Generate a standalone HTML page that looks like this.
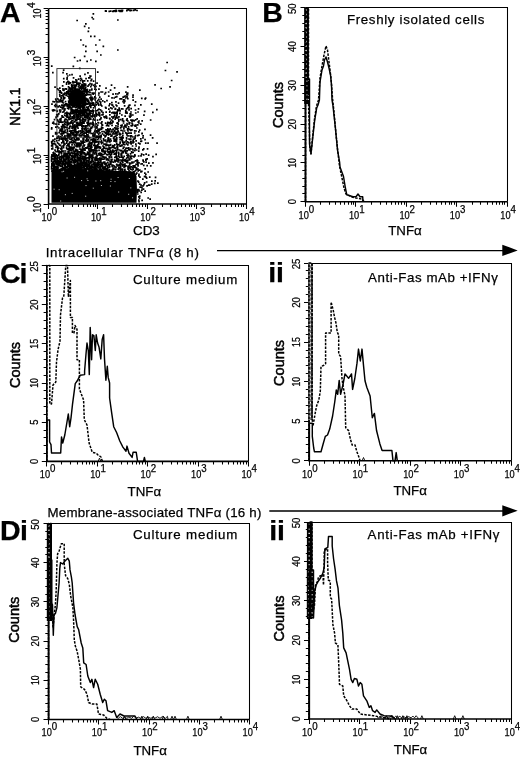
<!DOCTYPE html>
<html><head><meta charset="utf-8"><style>
html,body{margin:0;padding:0;background:#fff;}
body{width:520px;height:757px;overflow:hidden;position:relative;}
svg{position:absolute;left:0;top:0;filter:grayscale(1);}
text{font-family:"Liberation Sans", sans-serif;fill:#000;stroke:#000;stroke-width:0.25px;}
.h{stroke-width:0.25px;}
.t{stroke-width:0.5px;}
</style></head><body>
<svg width="520" height="757" viewBox="0 0 520 757" shape-rendering="auto">
<path d="M48.6 8.5H246.5V204" fill="none" stroke="#000" stroke-width="1.05"/>
<path d="M48.6 8.7V204H246.1" fill="none" stroke="#000" stroke-width="1.6"/>
<path d="M63.5 204v3M72.5 204v3M78.5 204v3M83.5 204v3M87.5 204v3M90.5 204v3M93.5 204v3M95.5 204v3M112.5 204v3M121.5 204v3M127.5 204v3M132.5 204v3M136.5 204v3M139.5 204v3M142.5 204v3M145.5 204v3M162.5 204v3M170.5 204v3M177.5 204v3M181.5 204v3M185.5 204v3M189.5 204v3M191.5 204v3M194.5 204v3M211.5 204v3M220.5 204v3M226.5 204v3M231.5 204v3M235.5 204v3M238.5 204v3M241.5 204v3M243.5 204v3M48.5 204v5M97.5 204v5M147.5 204v5M196.5 204v5M246.5 204v5" stroke="#000" stroke-width="1.05"/>
<text x="41.6" y="220.9" font-size="11.2" textLength="10.3" lengthAdjust="spacingAndGlyphs">10</text>
<text x="51.8" y="214.9" font-size="10.3" textLength="5.4" lengthAdjust="spacingAndGlyphs">0</text>
<text x="90.97" y="220.9" font-size="11.2" textLength="10.3" lengthAdjust="spacingAndGlyphs">10</text>
<text x="101.17" y="214.9" font-size="10.3" textLength="5.4" lengthAdjust="spacingAndGlyphs">1</text>
<text x="140.35" y="220.9" font-size="11.2" textLength="10.3" lengthAdjust="spacingAndGlyphs">10</text>
<text x="150.55" y="214.9" font-size="10.3" textLength="5.4" lengthAdjust="spacingAndGlyphs">2</text>
<text x="189.72" y="220.9" font-size="11.2" textLength="10.3" lengthAdjust="spacingAndGlyphs">10</text>
<text x="199.92" y="214.9" font-size="10.3" textLength="5.4" lengthAdjust="spacingAndGlyphs">3</text>
<text x="239.1" y="220.9" font-size="11.2" textLength="10.3" lengthAdjust="spacingAndGlyphs">10</text>
<text x="249.3" y="214.9" font-size="10.3" textLength="5.4" lengthAdjust="spacingAndGlyphs">4</text>
<text transform="translate(40.7,212.7) rotate(-90)" font-size="10.8" textLength="10" lengthAdjust="spacingAndGlyphs">10</text>
<text transform="translate(35.3,202.1) rotate(-90)" font-size="10.2" textLength="5.8" lengthAdjust="spacingAndGlyphs">0</text>
<text transform="translate(40.7,163.88) rotate(-90)" font-size="10.8" textLength="10" lengthAdjust="spacingAndGlyphs">10</text>
<text transform="translate(35.3,153.28) rotate(-90)" font-size="10.2" textLength="5.8" lengthAdjust="spacingAndGlyphs">1</text>
<text transform="translate(40.7,115.05) rotate(-90)" font-size="10.8" textLength="10" lengthAdjust="spacingAndGlyphs">10</text>
<text transform="translate(35.3,104.45) rotate(-90)" font-size="10.2" textLength="5.8" lengthAdjust="spacingAndGlyphs">2</text>
<text transform="translate(40.7,66.22) rotate(-90)" font-size="10.8" textLength="10" lengthAdjust="spacingAndGlyphs">10</text>
<text transform="translate(35.3,55.62) rotate(-90)" font-size="10.2" textLength="5.8" lengthAdjust="spacingAndGlyphs">3</text>
<text transform="translate(40.7,18.6) rotate(-90)" font-size="10.8" textLength="10" lengthAdjust="spacingAndGlyphs">10</text>
<text transform="translate(35.3,8) rotate(-90)" font-size="10.2" textLength="5.8" lengthAdjust="spacingAndGlyphs">4</text>
<path d="M48.6 189.5h-3M48.6 180.5h-3M48.6 174.5h-3M48.6 169.5h-3M48.6 166.5h-3M48.6 162.5h-3M48.6 159.5h-3M48.6 157.5h-3M48.6 140.5h-3M48.6 131.5h-3M48.6 125.5h-3M48.6 121.5h-3M48.6 117.5h-3M48.6 113.5h-3M48.6 111.5h-3M48.6 108.5h-3M48.6 91.5h-3M48.6 83.5h-3M48.6 76.5h-3M48.6 72.5h-3M48.6 68.5h-3M48.6 65.5h-3M48.6 62.5h-3M48.6 59.5h-3M48.6 42.5h-3M48.6 34.5h-3M48.6 28.5h-3M48.6 23.5h-3M48.6 19.5h-3M48.6 16.5h-3M48.6 13.5h-3M48.6 10.5h-3M48.6 204.5h-5M48.6 155.5h-5M48.6 106.5h-5M48.6 57.5h-5M48.6 8.5h-5" stroke="#000" stroke-width="1.05"/>
<path d="M305.5 7.5H507.5V201.7" fill="none" stroke="#000" stroke-width="1.05"/>
<path d="M305.5 7.8V201.7H507.3" fill="none" stroke="#000" stroke-width="1.6"/>
<path d="M320.5 201.7v3M329.5 201.7v3M335.5 201.7v3M340.5 201.7v3M344.5 201.7v3M348.5 201.7v3M351.5 201.7v3M353.5 201.7v3M371.5 201.7v3M380.5 201.7v3M386.5 201.7v3M391.5 201.7v3M395.5 201.7v3M398.5 201.7v3M401.5 201.7v3M404.5 201.7v3M421.5 201.7v3M430.5 201.7v3M436.5 201.7v3M441.5 201.7v3M445.5 201.7v3M449.5 201.7v3M451.5 201.7v3M454.5 201.7v3M472.5 201.7v3M480.5 201.7v3M487.5 201.7v3M492.5 201.7v3M496.5 201.7v3M499.5 201.7v3M502.5 201.7v3M504.5 201.7v3M305.5 201.7v5M355.5 201.7v5M406.5 201.7v5M456.5 201.7v5M507.5 201.7v5" stroke="#000" stroke-width="1.05"/>
<text x="298.5" y="218.6" font-size="11.2" textLength="10.3" lengthAdjust="spacingAndGlyphs">10</text>
<text x="308.7" y="212.6" font-size="10.3" textLength="5.4" lengthAdjust="spacingAndGlyphs">0</text>
<text x="348.95" y="218.6" font-size="11.2" textLength="10.3" lengthAdjust="spacingAndGlyphs">10</text>
<text x="359.15" y="212.6" font-size="10.3" textLength="5.4" lengthAdjust="spacingAndGlyphs">1</text>
<text x="399.4" y="218.6" font-size="11.2" textLength="10.3" lengthAdjust="spacingAndGlyphs">10</text>
<text x="409.6" y="212.6" font-size="10.3" textLength="5.4" lengthAdjust="spacingAndGlyphs">2</text>
<text x="449.85" y="218.6" font-size="11.2" textLength="10.3" lengthAdjust="spacingAndGlyphs">10</text>
<text x="460.05" y="212.6" font-size="10.3" textLength="5.4" lengthAdjust="spacingAndGlyphs">3</text>
<text x="500.3" y="218.6" font-size="11.2" textLength="10.3" lengthAdjust="spacingAndGlyphs">10</text>
<text x="510.5" y="212.6" font-size="10.3" textLength="5.4" lengthAdjust="spacingAndGlyphs">4</text>
<text transform="translate(296.2,201.7) rotate(-90)" font-size="10.5" textLength="5.2" lengthAdjust="spacingAndGlyphs" text-anchor="middle">0</text>
<text transform="translate(296.2,162.92) rotate(-90)" font-size="10.5" textLength="9.6" lengthAdjust="spacingAndGlyphs" text-anchor="middle">10</text>
<text transform="translate(296.2,124.14) rotate(-90)" font-size="10.5" textLength="10.6" lengthAdjust="spacingAndGlyphs" text-anchor="middle">20</text>
<text transform="translate(296.2,85.36) rotate(-90)" font-size="10.5" textLength="10.6" lengthAdjust="spacingAndGlyphs" text-anchor="middle">30</text>
<text transform="translate(296.2,46.58) rotate(-90)" font-size="10.5" textLength="10.6" lengthAdjust="spacingAndGlyphs" text-anchor="middle">40</text>
<text transform="translate(296.2,8.8) rotate(-90)" font-size="10.5" textLength="10.6" lengthAdjust="spacingAndGlyphs" text-anchor="middle">50</text>
<path d="M305.5 201.5h-5M305.5 193.5h-3.2M305.5 186.5h-3.2M305.5 178.5h-3.2M305.5 170.5h-3.2M305.5 162.5h-5M305.5 155.5h-3.2M305.5 147.5h-3.2M305.5 139.5h-3.2M305.5 131.5h-3.2M305.5 124.5h-5M305.5 116.5h-3.2M305.5 108.5h-3.2M305.5 100.5h-3.2M305.5 93.5h-3.2M305.5 85.5h-5M305.5 77.5h-3.2M305.5 69.5h-3.2M305.5 62.5h-3.2M305.5 54.5h-3.2M305.5 46.5h-5M305.5 38.5h-3.2M305.5 31.5h-3.2M305.5 23.5h-3.2M305.5 15.5h-3.2M305.5 7.5h-5" stroke="#000" stroke-width="1.05"/>
<path d="M46.8 265.5H248.5V461.4" fill="none" stroke="#000" stroke-width="1.05"/>
<path d="M46.8 265.5V461.4H248.4" fill="none" stroke="#000" stroke-width="1.6"/>
<path d="M61.5 461.4v3M70.5 461.4v3M77.5 461.4v3M82.5 461.4v3M86.5 461.4v3M89.5 461.4v3M92.5 461.4v3M94.5 461.4v3M112.5 461.4v3M121.5 461.4v3M127.5 461.4v3M132.5 461.4v3M136.5 461.4v3M139.5 461.4v3M142.5 461.4v3M145.5 461.4v3M162.5 461.4v3M171.5 461.4v3M177.5 461.4v3M182.5 461.4v3M186.5 461.4v3M190.5 461.4v3M193.5 461.4v3M195.5 461.4v3M213.5 461.4v3M222.5 461.4v3M228.5 461.4v3M233.5 461.4v3M237.5 461.4v3M240.5 461.4v3M243.5 461.4v3M246.5 461.4v3M46.5 461.4v5M97.5 461.4v5M147.5 461.4v5M198.5 461.4v5M248.5 461.4v5" stroke="#000" stroke-width="1.05"/>
<text x="39.8" y="478.3" font-size="11.2" textLength="10.3" lengthAdjust="spacingAndGlyphs">10</text>
<text x="50" y="472.3" font-size="10.3" textLength="5.4" lengthAdjust="spacingAndGlyphs">0</text>
<text x="90.2" y="478.3" font-size="11.2" textLength="10.3" lengthAdjust="spacingAndGlyphs">10</text>
<text x="100.4" y="472.3" font-size="10.3" textLength="5.4" lengthAdjust="spacingAndGlyphs">1</text>
<text x="140.6" y="478.3" font-size="11.2" textLength="10.3" lengthAdjust="spacingAndGlyphs">10</text>
<text x="150.8" y="472.3" font-size="10.3" textLength="5.4" lengthAdjust="spacingAndGlyphs">2</text>
<text x="191" y="478.3" font-size="11.2" textLength="10.3" lengthAdjust="spacingAndGlyphs">10</text>
<text x="201.2" y="472.3" font-size="10.3" textLength="5.4" lengthAdjust="spacingAndGlyphs">3</text>
<text x="241.4" y="478.3" font-size="11.2" textLength="10.3" lengthAdjust="spacingAndGlyphs">10</text>
<text x="251.6" y="472.3" font-size="10.3" textLength="5.4" lengthAdjust="spacingAndGlyphs">4</text>
<text transform="translate(37.5,461.4) rotate(-90)" font-size="10.5" textLength="5.2" lengthAdjust="spacingAndGlyphs" text-anchor="middle">0</text>
<text transform="translate(37.5,422.22) rotate(-90)" font-size="10.5" textLength="5.2" lengthAdjust="spacingAndGlyphs" text-anchor="middle">5</text>
<text transform="translate(37.5,383.04) rotate(-90)" font-size="10.5" textLength="9.6" lengthAdjust="spacingAndGlyphs" text-anchor="middle">10</text>
<text transform="translate(37.5,343.86) rotate(-90)" font-size="10.5" textLength="9.6" lengthAdjust="spacingAndGlyphs" text-anchor="middle">15</text>
<text transform="translate(37.5,304.68) rotate(-90)" font-size="10.5" textLength="10.6" lengthAdjust="spacingAndGlyphs" text-anchor="middle">20</text>
<text transform="translate(37.5,266.5) rotate(-90)" font-size="10.5" textLength="10.6" lengthAdjust="spacingAndGlyphs" text-anchor="middle">25</text>
<path d="M46.8 461.5h-5M46.8 453.5h-3.2M46.8 445.5h-3.2M46.8 437.5h-3.2M46.8 430.5h-3.2M46.8 422.5h-5M46.8 414.5h-3.2M46.8 406.5h-3.2M46.8 398.5h-3.2M46.8 390.5h-3.2M46.8 383.5h-5M46.8 375.5h-3.2M46.8 367.5h-3.2M46.8 359.5h-3.2M46.8 351.5h-3.2M46.8 343.5h-5M46.8 336.5h-3.2M46.8 328.5h-3.2M46.8 320.5h-3.2M46.8 312.5h-3.2M46.8 304.5h-5M46.8 296.5h-3.2M46.8 289.5h-3.2M46.8 281.5h-3.2M46.8 273.5h-3.2M46.8 265.5h-5" stroke="#000" stroke-width="1.05"/>
<path d="M309 263.5H511.5V460.8" fill="none" stroke="#000" stroke-width="1.05"/>
<path d="M309 263V460.8H511.4" fill="none" stroke="#000" stroke-width="1.6"/>
<path d="M324.5 460.8v3M333.5 460.8v3M339.5 460.8v3M344.5 460.8v3M348.5 460.8v3M351.5 460.8v3M354.5 460.8v3M357.5 460.8v3M374.5 460.8v3M383.5 460.8v3M390.5 460.8v3M394.5 460.8v3M398.5 460.8v3M402.5 460.8v3M405.5 460.8v3M407.5 460.8v3M425.5 460.8v3M434.5 460.8v3M440.5 460.8v3M445.5 460.8v3M449.5 460.8v3M452.5 460.8v3M455.5 460.8v3M458.5 460.8v3M476.5 460.8v3M484.5 460.8v3M491.5 460.8v3M496.5 460.8v3M500.5 460.8v3M503.5 460.8v3M506.5 460.8v3M509.5 460.8v3M309.5 460.8v5M359.5 460.8v5M410.5 460.8v5M460.5 460.8v5M511.5 460.8v5" stroke="#000" stroke-width="1.05"/>
<text x="302" y="477.7" font-size="11.2" textLength="10.3" lengthAdjust="spacingAndGlyphs">10</text>
<text x="312.2" y="471.7" font-size="10.3" textLength="5.4" lengthAdjust="spacingAndGlyphs">0</text>
<text x="352.6" y="477.7" font-size="11.2" textLength="10.3" lengthAdjust="spacingAndGlyphs">10</text>
<text x="362.8" y="471.7" font-size="10.3" textLength="5.4" lengthAdjust="spacingAndGlyphs">1</text>
<text x="403.2" y="477.7" font-size="11.2" textLength="10.3" lengthAdjust="spacingAndGlyphs">10</text>
<text x="413.4" y="471.7" font-size="10.3" textLength="5.4" lengthAdjust="spacingAndGlyphs">2</text>
<text x="453.8" y="477.7" font-size="11.2" textLength="10.3" lengthAdjust="spacingAndGlyphs">10</text>
<text x="464" y="471.7" font-size="10.3" textLength="5.4" lengthAdjust="spacingAndGlyphs">3</text>
<text x="504.4" y="477.7" font-size="11.2" textLength="10.3" lengthAdjust="spacingAndGlyphs">10</text>
<text x="514.6" y="471.7" font-size="10.3" textLength="5.4" lengthAdjust="spacingAndGlyphs">4</text>
<text transform="translate(299.7,460.8) rotate(-90)" font-size="10.5" textLength="5.2" lengthAdjust="spacingAndGlyphs" text-anchor="middle">0</text>
<text transform="translate(299.7,421.24) rotate(-90)" font-size="10.5" textLength="5.2" lengthAdjust="spacingAndGlyphs" text-anchor="middle">5</text>
<text transform="translate(299.7,381.68) rotate(-90)" font-size="10.5" textLength="9.6" lengthAdjust="spacingAndGlyphs" text-anchor="middle">10</text>
<text transform="translate(299.7,342.12) rotate(-90)" font-size="10.5" textLength="9.6" lengthAdjust="spacingAndGlyphs" text-anchor="middle">15</text>
<text transform="translate(299.7,302.56) rotate(-90)" font-size="10.5" textLength="10.6" lengthAdjust="spacingAndGlyphs" text-anchor="middle">20</text>
<text transform="translate(299.7,264) rotate(-90)" font-size="10.5" textLength="10.6" lengthAdjust="spacingAndGlyphs" text-anchor="middle">25</text>
<path d="M309 460.5h-5M309 452.5h-3.2M309 444.5h-3.2M309 437.5h-3.2M309 429.5h-3.2M309 421.5h-5M309 413.5h-3.2M309 405.5h-3.2M309 397.5h-3.2M309 389.5h-3.2M309 381.5h-5M309 373.5h-3.2M309 365.5h-3.2M309 357.5h-3.2M309 350.5h-3.2M309 342.5h-5M309 334.5h-3.2M309 326.5h-3.2M309 318.5h-3.2M309 310.5h-3.2M309 302.5h-5M309 294.5h-3.2M309 286.5h-3.2M309 278.5h-3.2M309 270.5h-3.2M309 263.5h-5" stroke="#000" stroke-width="1.05"/>
<path d="M48.5 523.5H249.5V719.5" fill="none" stroke="#000" stroke-width="1.05"/>
<path d="M48.5 523.5V719.5H249.6" fill="none" stroke="#000" stroke-width="1.6"/>
<path d="M63.5 719.5v3M72.5 719.5v3M78.5 719.5v3M83.5 719.5v3M87.5 719.5v3M90.5 719.5v3M93.5 719.5v3M96.5 719.5v3M113.5 719.5v3M122.5 719.5v3M129.5 719.5v3M133.5 719.5v3M137.5 719.5v3M141.5 719.5v3M144.5 719.5v3M146.5 719.5v3M164.5 719.5v3M173.5 719.5v3M179.5 719.5v3M184.5 719.5v3M188.5 719.5v3M191.5 719.5v3M194.5 719.5v3M197.5 719.5v3M214.5 719.5v3M223.5 719.5v3M229.5 719.5v3M234.5 719.5v3M238.5 719.5v3M241.5 719.5v3M244.5 719.5v3M247.5 719.5v3M48.5 719.5v5M98.5 719.5v5M149.5 719.5v5M199.5 719.5v5M249.5 719.5v5" stroke="#000" stroke-width="1.05"/>
<text x="41.5" y="736.4" font-size="11.2" textLength="10.3" lengthAdjust="spacingAndGlyphs">10</text>
<text x="51.7" y="730.4" font-size="10.3" textLength="5.4" lengthAdjust="spacingAndGlyphs">0</text>
<text x="91.78" y="736.4" font-size="11.2" textLength="10.3" lengthAdjust="spacingAndGlyphs">10</text>
<text x="101.98" y="730.4" font-size="10.3" textLength="5.4" lengthAdjust="spacingAndGlyphs">1</text>
<text x="142.05" y="736.4" font-size="11.2" textLength="10.3" lengthAdjust="spacingAndGlyphs">10</text>
<text x="152.25" y="730.4" font-size="10.3" textLength="5.4" lengthAdjust="spacingAndGlyphs">2</text>
<text x="192.32" y="736.4" font-size="11.2" textLength="10.3" lengthAdjust="spacingAndGlyphs">10</text>
<text x="202.52" y="730.4" font-size="10.3" textLength="5.4" lengthAdjust="spacingAndGlyphs">3</text>
<text x="242.6" y="736.4" font-size="11.2" textLength="10.3" lengthAdjust="spacingAndGlyphs">10</text>
<text x="252.8" y="730.4" font-size="10.3" textLength="5.4" lengthAdjust="spacingAndGlyphs">4</text>
<text transform="translate(39.2,719.5) rotate(-90)" font-size="10.5" textLength="5.2" lengthAdjust="spacingAndGlyphs" text-anchor="middle">0</text>
<text transform="translate(39.2,680.3) rotate(-90)" font-size="10.5" textLength="9.6" lengthAdjust="spacingAndGlyphs" text-anchor="middle">10</text>
<text transform="translate(39.2,641.1) rotate(-90)" font-size="10.5" textLength="10.6" lengthAdjust="spacingAndGlyphs" text-anchor="middle">20</text>
<text transform="translate(39.2,601.9) rotate(-90)" font-size="10.5" textLength="10.6" lengthAdjust="spacingAndGlyphs" text-anchor="middle">30</text>
<text transform="translate(39.2,562.7) rotate(-90)" font-size="10.5" textLength="10.6" lengthAdjust="spacingAndGlyphs" text-anchor="middle">40</text>
<text transform="translate(39.2,524.5) rotate(-90)" font-size="10.5" textLength="10.6" lengthAdjust="spacingAndGlyphs" text-anchor="middle">50</text>
<path d="M48.5 719.5h-5M48.5 711.5h-3.2M48.5 703.5h-3.2M48.5 695.5h-3.2M48.5 688.5h-3.2M48.5 680.5h-5M48.5 672.5h-3.2M48.5 664.5h-3.2M48.5 656.5h-3.2M48.5 648.5h-3.2M48.5 641.5h-5M48.5 633.5h-3.2M48.5 625.5h-3.2M48.5 617.5h-3.2M48.5 609.5h-3.2M48.5 601.5h-5M48.5 594.5h-3.2M48.5 586.5h-3.2M48.5 578.5h-3.2M48.5 570.5h-3.2M48.5 562.5h-5M48.5 554.5h-3.2M48.5 547.5h-3.2M48.5 539.5h-3.2M48.5 531.5h-3.2M48.5 523.5h-5" stroke="#000" stroke-width="1.05"/>
<path d="M309 522.5H511.5V719" fill="none" stroke="#000" stroke-width="1.05"/>
<path d="M309 522V719H511.5" fill="none" stroke="#000" stroke-width="1.6"/>
<path d="M324.5 719v3M333.5 719v3M339.5 719v3M344.5 719v3M348.5 719v3M351.5 719v3M354.5 719v3M357.5 719v3M374.5 719v3M383.5 719v3M390.5 719v3M395.5 719v3M399.5 719v3M402.5 719v3M405.5 719v3M407.5 719v3M425.5 719v3M434.5 719v3M440.5 719v3M445.5 719v3M449.5 719v3M453.5 719v3M455.5 719v3M458.5 719v3M476.5 719v3M485.5 719v3M491.5 719v3M496.5 719v3M500.5 719v3M503.5 719v3M506.5 719v3M509.5 719v3M309.5 719v5M359.5 719v5M410.5 719v5M460.5 719v5M511.5 719v5" stroke="#000" stroke-width="1.05"/>
<text x="302" y="735.9" font-size="11.2" textLength="10.3" lengthAdjust="spacingAndGlyphs">10</text>
<text x="312.2" y="729.9" font-size="10.3" textLength="5.4" lengthAdjust="spacingAndGlyphs">0</text>
<text x="352.62" y="735.9" font-size="11.2" textLength="10.3" lengthAdjust="spacingAndGlyphs">10</text>
<text x="362.82" y="729.9" font-size="10.3" textLength="5.4" lengthAdjust="spacingAndGlyphs">1</text>
<text x="403.25" y="735.9" font-size="11.2" textLength="10.3" lengthAdjust="spacingAndGlyphs">10</text>
<text x="413.45" y="729.9" font-size="10.3" textLength="5.4" lengthAdjust="spacingAndGlyphs">2</text>
<text x="453.88" y="735.9" font-size="11.2" textLength="10.3" lengthAdjust="spacingAndGlyphs">10</text>
<text x="464.07" y="729.9" font-size="10.3" textLength="5.4" lengthAdjust="spacingAndGlyphs">3</text>
<text x="504.5" y="735.9" font-size="11.2" textLength="10.3" lengthAdjust="spacingAndGlyphs">10</text>
<text x="514.7" y="729.9" font-size="10.3" textLength="5.4" lengthAdjust="spacingAndGlyphs">4</text>
<text transform="translate(299.7,719) rotate(-90)" font-size="10.5" textLength="5.2" lengthAdjust="spacingAndGlyphs" text-anchor="middle">0</text>
<text transform="translate(299.7,679.6) rotate(-90)" font-size="10.5" textLength="9.6" lengthAdjust="spacingAndGlyphs" text-anchor="middle">10</text>
<text transform="translate(299.7,640.2) rotate(-90)" font-size="10.5" textLength="10.6" lengthAdjust="spacingAndGlyphs" text-anchor="middle">20</text>
<text transform="translate(299.7,600.8) rotate(-90)" font-size="10.5" textLength="10.6" lengthAdjust="spacingAndGlyphs" text-anchor="middle">30</text>
<text transform="translate(299.7,561.4) rotate(-90)" font-size="10.5" textLength="10.6" lengthAdjust="spacingAndGlyphs" text-anchor="middle">40</text>
<text transform="translate(299.7,523) rotate(-90)" font-size="10.5" textLength="10.6" lengthAdjust="spacingAndGlyphs" text-anchor="middle">50</text>
<path d="M309 719.5h-5M309 711.5h-3.2M309 703.5h-3.2M309 695.5h-3.2M309 687.5h-3.2M309 679.5h-5M309 671.5h-3.2M309 663.5h-3.2M309 655.5h-3.2M309 648.5h-3.2M309 640.5h-5M309 632.5h-3.2M309 624.5h-3.2M309 616.5h-3.2M309 608.5h-3.2M309 600.5h-5M309 592.5h-3.2M309 585.5h-3.2M309 577.5h-3.2M309 569.5h-3.2M309 561.5h-5M309 553.5h-3.2M309 545.5h-3.2M309 537.5h-3.2M309 529.5h-3.2M309 522.5h-5" stroke="#000" stroke-width="1.05"/>
<text x="0.1" y="22" font-size="28.5" font-weight="bold">A</text>
<text x="262.3" y="21.9" font-size="28.5" font-weight="bold">B</text>
<text x="0.1" y="282.8" font-size="28.5" font-weight="bold" textLength="27.2" lengthAdjust="spacing">Ci</text>
<text x="268.2" y="282.1" font-size="28.5" font-weight="bold">ii</text>
<text x="-0.1" y="540.3" font-size="28.5" font-weight="bold" textLength="27.9" lengthAdjust="spacing">Di</text>
<text x="269.2" y="540" font-size="28.5" font-weight="bold">ii</text>
<text x="346.9" y="23.5" font-size="13.3" textLength="137.5" lengthAdjust="spacing" class="h">Freshly isolated cells</text>
<text x="132.95" y="284" font-size="13.3" textLength="104.45" lengthAdjust="spacing" class="h">Culture medium</text>
<text x="367.95" y="281.5" font-size="13.3" textLength="129.95" lengthAdjust="spacing" class="h">Anti-Fas mAb +IFN&#947;</text>
<text x="132.95" y="538.75" font-size="13.3" textLength="104.45" lengthAdjust="spacing" class="h">Culture medium</text>
<text x="367.6" y="538.5" font-size="13.3" textLength="131.8" lengthAdjust="spacing" class="h">Anti-Fas mAb +IFN&#947;</text>
<text x="45.7" y="257" font-size="13.3" textLength="153.2" lengthAdjust="spacing" class="h">Intracellular TNF&#945; (8 h)</text>
<text x="47.5" y="517.2" font-size="13.3" textLength="213.9" lengthAdjust="spacing" class="h">Membrane-associated TNF&#945; (16 h)</text>
<text transform="translate(282.6,128) rotate(-90)" font-size="15" textLength="46" lengthAdjust="spacingAndGlyphs" class="t">Counts</text>
<text transform="translate(19.6,388) rotate(-90)" font-size="15" textLength="46" lengthAdjust="spacingAndGlyphs" class="t">Counts</text>
<text transform="translate(283.6,385.9) rotate(-90)" font-size="15" textLength="46" lengthAdjust="spacingAndGlyphs" class="t">Counts</text>
<text transform="translate(19,642.7) rotate(-90)" font-size="15" textLength="46" lengthAdjust="spacingAndGlyphs" class="t">Counts</text>
<text transform="translate(284,641.6) rotate(-90)" font-size="15" textLength="46" lengthAdjust="spacingAndGlyphs" class="t">Counts</text>
<text transform="translate(20,126) rotate(-90)" font-size="15" textLength="38.5" lengthAdjust="spacingAndGlyphs" class="t">NK1.1</text>
<text x="133" y="235" font-size="13.3" textLength="26.8" lengthAdjust="spacingAndGlyphs" class="h">CD3</text>
<text x="388.2" y="235" font-size="13.5" textLength="33.5" lengthAdjust="spacingAndGlyphs" class="h">TNF&#945;</text>
<text x="127.6" y="496.3" font-size="13.5" textLength="33.5" lengthAdjust="spacingAndGlyphs" class="h">TNF&#945;</text>
<text x="393.4" y="494.9" font-size="13.5" textLength="33.5" lengthAdjust="spacingAndGlyphs" class="h">TNF&#945;</text>
<text x="133.4" y="754.6" font-size="13.5" textLength="33.5" lengthAdjust="spacingAndGlyphs" class="h">TNF&#945;</text>
<text x="393.8" y="754" font-size="13.5" textLength="33.5" lengthAdjust="spacingAndGlyphs" class="h">TNF&#945;</text>
<path d="M217 250.6H504M269.3 511H504" stroke="#000" stroke-width="1.3"/>
<path d="M502.3 244.8L517.7 250.4L502.3 256Z M502.3 505.2L517.7 510.8L502.3 516.4Z" fill="#000"/>
<rect x="304.2" y="7.8" width="4.7" height="71.2" fill="#000"/>
<path d="M306.08 9.3V78" stroke="#fff" stroke-width="1.3" stroke-dasharray="1.4 3.1"/>
<rect x="304.2" y="79" width="5.8" height="25" fill="#000"/>
<path d="M305.9 80.5V103" stroke="#fff" stroke-width="1.3" stroke-dasharray="1.4 3.1"/>
<path d="M308.3 80.5V103" stroke="#fff" stroke-width="1.3" stroke-dasharray="1.4 3.1"/>
<rect x="308.4" y="263" width="4.3" height="157" fill="#777"/>
<path d="M312.1 263V420" stroke="#000" stroke-width="1.3" stroke-dasharray="2.6 1.6"/>
<path d="M310.3 264V420" stroke="#fff" stroke-width="1.2" stroke-dasharray="1.4 3.2"/>
<rect x="46.8" y="523.5" width="5.2" height="97.5" fill="#000"/>
<path d="M48.88 525V620" stroke="#fff" stroke-width="1.3" stroke-dasharray="1.4 3.1"/>
<rect x="306.9" y="522" width="5.7" height="97" fill="#000"/>
<path d="M309.18 523.5V618" stroke="#fff" stroke-width="1.3" stroke-dasharray="1.4 3.1"/>
<rect x="306.9" y="570" width="7.1" height="48" fill="#000"/>
<path d="M308.6 571.5V617" stroke="#fff" stroke-width="1.3" stroke-dasharray="1.4 3.1"/>
<path d="M312.3 571.5V617" stroke="#fff" stroke-width="1.3" stroke-dasharray="1.4 3.1"/>
<path d="M305.5 201.7 L305.5 79 L309.5 79 L309.5 144 L311 153.5 L312.5 140 L314.6 121 L316.7 108 L318 105 L319.4 100 L320 82 L322 70 L323.5 66 L324.5 60 L326 57 L327.5 62 L329 68 L330.5 75 L331.5 85 L332 100 L333 106 L335.4 128 L337.5 150 L339.6 162 L340 167 L343.5 176.5 L345.4 188 L346.8 194.8 L353 196.7 L356 196.7 L358 194 L360 196.7 L362.7 196.7 L363 201.7" fill="none" stroke="#000" stroke-width="1.45" stroke-linejoin="round"/>
<path d="M305.5 201.7 L305.5 8 L308.5 8 L308.5 104 L310 150 L311 154 L312.5 138 L314.5 119 L316.5 106 L318.5 100 L320 78 L322 66 L324 55 L326 46 L327.5 50 L329 62 L331 78 L332.5 98 L334 112 L336 134 L338 153 L339.5 166 L342 178 L344 188 L346 194 L352 197 L356 198 L362 199 L364 201.7" fill="none" stroke="#000" stroke-width="1.5" stroke-dasharray="2.5 1.3" stroke-linejoin="round"/>
<path d="M46.8 461.4 L46.8 265.5 L49.8 265.5 L49.8 404 L51.5 404 L53 385 L55.8 382 L56.5 362 L58 350 L60 341 L60.5 315 L62.5 298 L63.8 296 L65.8 265.5 L67.5 265.5 L68.4 297 L70.4 280.5 L70.4 317.5 L72.4 317.5 L72.4 333 L74 333 L75 325.4 L77 329.4 L77 359.8 L79.4 359.8 L79.4 389 L83.6 400 L84.3 419.7 L87 425 L89.1 443 L92.2 452.2 L96.3 453.3 L98 455 L101 457 L102.4 461.4" fill="none" stroke="#000" stroke-width="1.5" stroke-dasharray="2.5 1.3" stroke-linejoin="round"/>
<path d="M46.8 461.4 L47 420 L49.6 420 L49.6 442 L51 444.7 L51.5 453 L60.7 453 L61.5 437 L62.75 443 L64.8 435 L66.9 422.5 L68.3 414 L69.7 426.7 L71 418 L72.5 404.4 L75.25 383.6 L77.3 380.8 L80.1 375.3 L84.6 374.6 L84.6 371 L86 354 L87 343 L88.3 350.5 L89.3 374.6 L90.2 327.4 L91.6 359.8 L92.5 334.8 L93.9 335.7 L95.3 350.5 L96.2 334.8 L97.6 343 L99 346.9 L100.8 358.9 L102.2 339.4 L103.6 334.8 L104.5 358.9 L105.9 380.2 L107.3 366.3 L108.2 377.4 L109.6 383 L109.6 398 L111.6 412.3 L113.7 426.7 L116.7 432.8 L119.8 441 L122.9 447.1 L126 451.2 L127 446.1 L129 453.3 L132.1 457.4 L133.1 452.2 L136.2 452.2 L137.6 461.4 L143.5 461.4 L144.4 457.4 L145.3 461.4" fill="none" stroke="#000" stroke-width="1.45" stroke-linejoin="round"/>
<path d="M309 460.8 L309 263 L312 263 L312 417.5 L313 426.2 L315.2 413.1 L316.6 405.9 L318.8 400 L320.3 391.3 L321 366.6 L323.9 365.2 L325.6 363.7 L325.6 332.9 L331.1 332.9 L331.1 302 L333.2 310.2 L334.5 317 L335.9 322.6 L337.3 332.2 L338.7 335 L338.7 354 L340.6 356.5 L342.1 379.7 L343.5 388.4 L345 395.7 L345.7 427.7 L348.6 430.6 L350.5 439.6 L352.2 445.1 L355.1 445.1 L356.6 450.9 L358.8 456.7 L360 460.8" fill="none" stroke="#000" stroke-width="1.5" stroke-dasharray="2.5 1.3" stroke-linejoin="round"/>
<path d="M309.4 460.8 L309.4 423.3 L312.3 423.3 L312.3 436.4 L313.7 448 L314.4 451.7 L321 451.7 L323.2 443.7 L325.3 436.4 L327.5 435 L329.7 429.1 L332.6 416 L334.8 401.5 L336.3 389.9 L337.7 394.2 L339.2 380.4 L340.6 394.2 L342.8 385.5 L345 373.9 L348.6 378.3 L351.5 373.9 L352.6 389.4 L354.8 378.5 L357 363.2 L358.5 349.1 L360.3 361 L362 349.1 L363.5 365.4 L365 380.7 L366.8 387.2 L370.1 396 L372.3 417.8 L374.4 413.4 L376.6 430.8 L379.9 443.9 L382.1 450.5 L391.9 450.5 L393 460.8 L395 460.8 L396.2 452.6 L397.3 460.8" fill="none" stroke="#000" stroke-width="1.45" stroke-linejoin="round"/>
<path d="M48.5 719.5 L48.5 523.5 L51.2 523.5 L51.2 600 L53.1 628 L54 616.4 L55.4 604.8 L56.2 590.2 L56.9 564 L57.6 553.9 L59.1 551 L61.3 543.7 L64.2 543.7 L64.2 564 L65.6 575.7 L67.8 578.6 L69.3 584.4 L70.7 596 L72.9 607.7 L73.6 620.8 L74.3 640 L75.4 646.3 L77.1 651.2 L78.7 659.5 L80.4 669.4 L80.7 686.8 L84.5 689.3 L87 694.2 L88.6 702.5 L91.9 704.1 L96.9 704.1 L98.5 714 L103.5 714.9 L106.8 718.2 L110 719.5" fill="none" stroke="#000" stroke-width="1.5" stroke-dasharray="2.5 1.3" stroke-linejoin="round"/>
<path d="M48.7 719.5 L48.7 560 L51.8 560 L51.8 603.3 L52.5 604.8 L53.3 635.3 L54 615 L55.4 613.5 L56.9 607.7 L59.1 583 L59.8 568.4 L60.5 562.6 L62.7 564 L65 561 L67.8 558.3 L69.3 561.2 L70 569.9 L71.4 577.2 L72.2 583 L72.9 593.1 L73.6 603.3 L75.1 615 L77.2 626.6 L78.7 629.8 L81.2 643 L82.8 647.9 L83.7 662.8 L86.1 664.5 L87.8 676 L90.3 682.6 L91.9 679.3 L93.6 687.6 L95.2 679.3 L97.7 684.3 L100.2 694.2 L102.7 702.5 L104.3 699.2 L106 700.8 L107.6 710.7 L111.8 712.4 L114.2 710.7 L116.7 717.4 L120 714 L124 716 L135 716 L137 719.5" fill="none" stroke="#000" stroke-width="1.45" stroke-linejoin="round"/>
<path d="M309 719 L309 522 L312 522 L312 600 L313 612 L314.5 605 L315.5 585 L317.5 581.3 L318.5 577 L320.2 576 L322.9 574.6 L323.5 585 L324.2 560 L324.2 550.3 L327.6 549 L327.6 562.5 L328.3 580 L330.3 581.3 L330.3 597.5 L331.6 598.9 L332.9 624.8 L334.6 633.1 L335.4 643 L337.9 644.6 L338.7 662.8 L339.5 684.3 L342.8 686 L343.7 695.9 L347 700.8 L349.5 705.8 L352 709.1 L356.9 709.1 L360.2 714 L366.8 714.9 L373.4 715.7 L380 717 L390 719" fill="none" stroke="#000" stroke-width="1.5" stroke-dasharray="2.5 1.3" stroke-linejoin="round"/>
<path d="M309.4 719 L309.4 570 L313.5 570 L313.5 618 L314.7 591 L316.2 585 L318.4 581 L320.5 578 L322.7 573.6 L324.2 567.8 L324.9 549 L327.8 547.4 L328.5 536.5 L332.2 536.5 L332.2 546 L333.6 559 L335.1 569.2 L336.5 580.9 L338 588.1 L339.4 605.6 L341.6 620.1 L342.8 633.1 L343.7 647.9 L346.1 652.9 L347.8 661.2 L349.5 669.4 L351.1 679.3 L352.8 682.6 L354.4 678.5 L356.9 679.3 L358.5 686 L360.2 682.6 L361.9 684.3 L363.5 695.9 L366.8 700.8 L369.3 707.4 L370.9 705.8 L372.6 710.7 L375.1 712.4 L376.7 709.9 L380 714 L384 715.7 L392 716 L395 719" fill="none" stroke="#000" stroke-width="1.45" stroke-linejoin="round"/>
<path d="M123.1 719.5L124.5 716.2L125.9 719.5M140.4 719.5L141.8 716.2L143.2 719.5M146.2 719.5L147.6 716.2L149 719.5M151.9 719.5L153.3 716.2L154.7 719.5M162 719.5L163.4 716.2L164.8 719.5M170.6 719.5L172 716.2L173.4 719.5M173.6 719.5L175 716.2L176.4 719.5M186.5 719.5L187.9 716.2L189.3 719.5M219.6 719.5L221 716.2L222.4 719.5" fill="none" stroke="#000" stroke-width="0.9"/>
<path d="M385 719L386.4 715.7L387.8 719M390.5 719L391.9 715.7L393.3 719M395.9 719L397.3 715.7L398.7 719M401.4 719L402.8 715.7L404.2 719M405.5 719L406.9 715.7L408.3 719M420.5 719L421.9 715.7L423.3 719M453.3 719L454.7 715.7L456.1 719M461.5 719L462.9 715.7L464.3 719" fill="none" stroke="#000" stroke-width="0.9"/>
<path d="M98.1 461.4L99.5 458.1L100.9 461.4" fill="none" stroke="#000" stroke-width="0.9"/>
<path d="M362.1 460.8L363.5 457.5L364.9 460.8" fill="none" stroke="#000" stroke-width="0.9"/>
<path d="M116 717.04 L118.26 718.3 L120.29 716.57 L122.65 718.3 L124.28 717.32 L126.92 718.3 L128.81 717.04 L131.66 718.3 L133.82 716.27 L135.99 718.3 L138.37 717.15 L140.75 718.3 L143.44 716.67 L145.96 718.3 L148.38 717.26 L150.92 718.3 L153.24 716.95 L154.82 718.3 L157.51 716.73 L160 718.3 L162.7 716.43 L165.45 718.3 L167.51 716.31 L168 719.5" fill="none" stroke="#000" stroke-width="0.9"/>
<path d="M376 716.04 L378.52 717.8 L381.11 715.63 L383.63 717.8 L386.38 716.8 L388.54 717.8 L391.32 716.01 L394.05 717.8 L395.74 716.24 L397.61 717.8 L399.86 716.11 L401.42 717.8 L403.25 716.48 L406 717.8 L408.55 716.64 L411.14 717.8 L412.86 716.05 L414.57 717.8 L416.11 715.72 L417.93 717.8 L418 719" fill="none" stroke="#000" stroke-width="0.9"/>
<path d="M51.5 202.8 L51.5 169.5 L70 169 L96 169.5 L112 171 L124 171 L134 171.5 L136.5 176 L137 190 L136.5 202.8Z" fill="#000"/>
<path d="M79.3 60.3h1.7M76.7 61h1.7M50.9 66.1h1.7M78.9 68.3h1.7M62.8 70.1h1.7M96.9 72.2h1.7M52 72.7h1.7M62.2 72.7h1.7M87.1 72.8h1.7M66 73.9h1.7M84.1 74.3h1.7M68.9 75h1.7M71.2 74.7h1.7M66.8 76h1.7M79.3 76.2h1.7M89.1 76h1.7M89.9 76.2h1.7M66.3 77.8h1.7M72.7 77.9h1.7M79.9 78.3h1.7M88 77.9h1.7M89 77.8h1.7M62.9 78.7h1.7M66.2 79.1h1.7M77.8 79.2h1.7M80.8 79.3h1.7M85.2 78.7h1.7M90.8 79.3h1.7M75 79.9h1.7M75.9 80.3h1.7M67.1 81.3h1.7M75.9 81.3h1.7M79.8 80.7h1.7M81.9 80.9h1.7M83.7 80.8h1.7M86.9 80.8h1.7M90.2 80.7h1.7M92.7 81.2h1.7M63 81.8h1.7M67 81.9h1.7M68.2 82.1h1.7M71.9 81.7h1.7M73.2 82.2h1.7M73.7 82.3h1.7M74.8 82.2h1.7M82 82.1h1.7M65.8 82.7h1.7M68.8 83.1h1.7M69.7 82.8h1.7M72.2 82.8h1.7M76 82.8h1.7M76.9 83.3h1.7M77.9 83.2h1.7M79.2 83.3h1.7M96.2 83.2h1.7M65.7 84.1h1.7M68 83.9h1.7M76 84.1h1.7M77.2 83.9h1.7M78.1 84.3h1.7M81.3 84.3h1.7M83.1 83.8h1.7M84.7 84.1h1.7M89.2 83.7h1.7M91 84.1h1.7M70.7 84.9h1.7M72 85.3h1.7M72.8 85h1.7M73.9 85h1.7M75.2 85.1h1.7M78.2 85.3h1.7M80.9 85.1h1.7M81.8 84.9h1.7M83.8 85.1h1.7M84.9 85.2h1.7M88.1 84.8h1.7M90.8 84.9h1.7M92.9 85.3h1.7M94.3 84.7h1.7M110.7 85.1h1.7M61.8 85.8h1.7M70.9 86.1h1.7M74 86.3h1.7M74.7 85.9h1.7M75.7 85.9h1.7M79.8 86.3h1.7M81.1 85.7h1.7M83.2 85.9h1.7M87.1 86.1h1.7M95.1 86.3h1.7M99 85.8h1.7M54.2 87.1h1.7M67.7 86.9h1.7M71.1 86.9h1.7M71.7 87.1h1.7M72.8 87.3h1.7M74.2 86.7h1.7M77.8 87h1.7M79.9 87.1h1.7M81.1 86.9h1.7M82 86.7h1.7M83 86.9h1.7M84.9 87.1h1.7M90 86.7h1.7M94 86.8h1.7M126.8 86.9h1.7M59 88.2h1.7M68.7 87.9h1.7M70.3 88.3h1.7M71.9 87.9h1.7M72.9 87.9h1.7M73.8 88h1.7M74.7 88.1h1.7M79.2 87.8h1.7M80.8 88.2h1.7M81.8 88.1h1.7M82.9 88.3h1.7M105.2 88.1h1.7M113.8 87.8h1.7M56.8 88.9h1.7M62.1 88.8h1.7M64.1 89h1.7M65.1 88.8h1.7M65.7 89.1h1.7M68.3 88.9h1.7M69.2 89h1.7M72 88.7h1.7M74.1 88.7h1.7M74.9 89h1.7M77.2 89.1h1.7M78.3 89.1h1.7M79.3 88.7h1.7M84.3 88.7h1.7M86.1 89.3h1.7M91 89.1h1.7M94 89.1h1.7M98.1 89.2h1.7M57.7 90h1.7M62.3 90.1h1.7M63.1 90.3h1.7M68 90.3h1.7M70 90.2h1.7M71.3 90h1.7M71.8 89.7h1.7M75.3 89.8h1.7M76.2 90.2h1.7M76.9 89.7h1.7M78 90.1h1.7M80.9 89.8h1.7M83.1 89.9h1.7M84.1 89.8h1.7M85 90.1h1.7M85.9 90h1.7M86.7 90.1h1.7M89 90.2h1.7M90.9 89.8h1.7M95.2 89.7h1.7M109.7 90.2h1.7M139 90.1h1.7M59.3 90.8h1.7M67.1 91.1h1.7M68.3 91.1h1.7M70 91.2h1.7M71.9 91.3h1.7M73.1 91.3h1.7M74.7 90.8h1.7M75.8 91.1h1.7M76.7 90.7h1.7M78 91h1.7M79.2 91.3h1.7M82 91.3h1.7M83.3 91.2h1.7M83.7 91h1.7M84.8 90.9h1.7M86.2 91.1h1.7M58.8 92.2h1.7M60.3 92.3h1.7M65.9 91.8h1.7M67.3 92.1h1.7M67.7 92.2h1.7M71.2 91.9h1.7M72 91.9h1.7M73.9 91.8h1.7M76 92.3h1.7M77 92.3h1.7M78.3 92.1h1.7M79.7 92.1h1.7M84.3 91.8h1.7M84.7 91.8h1.7M86.2 92h1.7M87.8 91.9h1.7M89.2 92.3h1.7M100.2 92h1.7M101.7 92h1.7M107.8 92h1.7M125.1 92.1h1.7M60.9 93.2h1.7M63.9 93h1.7M64.8 93.2h1.7M66.2 93.1h1.7M66.8 93.1h1.7M69.2 93h1.7M71 93.2h1.7M72.2 93.2h1.7M73.1 93.3h1.7M74.3 93.3h1.7M74.7 93.3h1.7M77.3 92.8h1.7M77.9 92.8h1.7M79.3 93h1.7M79.9 93.1h1.7M80.9 92.7h1.7M81.9 92.8h1.7M83.3 93.1h1.7M83.7 93.3h1.7M86 92.8h1.7M91.3 93h1.7M91.9 93.2h1.7M93.2 93.1h1.7M98.1 93.2h1.7M104.8 92.7h1.7M118.3 92.8h1.7M126.9 93.1h1.7M58.9 94.3h1.7M63 94.1h1.7M63.8 94.3h1.7M66.1 93.9h1.7M67.3 93.9h1.7M67.9 94.2h1.7M68.9 94h1.7M72.3 94.1h1.7M72.9 94.1h1.7M76 94.2h1.7M77 93.7h1.7M77.7 93.8h1.7M79 94h1.7M79.8 93.8h1.7M81.3 93.8h1.7M81.8 93.7h1.7M86.9 94.3h1.7M92.3 94.2h1.7M92.7 93.9h1.7M103.9 94h1.7M112.2 94.1h1.7M115 93.8h1.7M117 94h1.7M126 94.2h1.7M61.9 95h1.7M65.3 95.3h1.7M69.7 95h1.7M72.3 94.9h1.7M73.2 95h1.7M74.1 94.7h1.7M75.1 95h1.7M75.9 94.7h1.7M78.9 94.8h1.7M80 95h1.7M82.1 95.2h1.7M83.2 95.3h1.7M84.3 94.9h1.7M85 94.7h1.7M85.7 95.1h1.7M87.9 94.7h1.7M88.9 94.7h1.7M90.1 95h1.7M97.9 95h1.7M126.7 94.8h1.7M132.2 95.2h1.7M59.1 96.2h1.7M60.9 95.9h1.7M62.7 96.3h1.7M67.1 96.2h1.7M67.9 96.3h1.7M69.1 96h1.7M70.1 96.1h1.7M70.8 96.2h1.7M71.8 95.8h1.7M73.3 96.3h1.7M77.2 95.7h1.7M77.7 96.1h1.7M80.3 95.8h1.7M81.1 95.7h1.7M82.2 96h1.7M83 96.2h1.7M84.1 96.2h1.7M107.9 96.1h1.7M123.7 96.3h1.7M125 96h1.7M68.2 96.8h1.7M69 97h1.7M70.3 96.9h1.7M71.2 97h1.7M72.3 96.7h1.7M73.2 97h1.7M73.7 97.1h1.7M74.7 96.7h1.7M76 97.2h1.7M76.7 97.1h1.7M78.1 97.1h1.7M80 96.9h1.7M80.9 96.7h1.7M81.9 96.8h1.7M82.9 97.1h1.7M84.1 97.1h1.7M90 97h1.7M90.9 97h1.7M94 96.9h1.7M98.9 97.1h1.7M114.7 97.1h1.7M116 96.7h1.7M122.3 97.1h1.7M122.7 97h1.7M126.2 96.8h1.7M132.1 97.2h1.7M60.2 97.8h1.7M60.8 98.1h1.7M63 98.2h1.7M63.9 97.9h1.7M68.3 98.2h1.7M69.3 97.7h1.7M70.2 98.1h1.7M72.9 97.9h1.7M74.8 97.7h1.7M76.2 97.9h1.7M77.3 97.8h1.7M79.2 98.3h1.7M80.3 97.9h1.7M81.2 98.2h1.7M83.3 97.7h1.7M85.1 98.3h1.7M89.1 97.8h1.7M90.2 98h1.7M91.8 98.2h1.7M94.1 98h1.7M94.8 98.1h1.7M111.2 97.9h1.7M113.3 98h1.7M124.9 98h1.7M140.9 98.3h1.7M144.8 98.1h1.7M54.9 99.1h1.7M56.9 98.8h1.7M63.2 98.7h1.7M68.7 98.9h1.7M71.2 98.9h1.7M72 99.3h1.7M73.8 99.3h1.7M74.9 98.8h1.7M75.7 98.9h1.7M77.3 99.2h1.7M78.3 98.8h1.7M79.3 98.7h1.7M79.8 98.8h1.7M81.1 99.3h1.7M82.3 98.8h1.7M83.1 99.2h1.7M83.9 99h1.7M86.3 99.1h1.7M86.8 99.1h1.7M89.9 99.1h1.7M92.1 98.8h1.7M98 99.3h1.7M100.3 99.1h1.7M119.2 98.8h1.7M120.8 98.9h1.7M127 98.7h1.7M144.3 98.8h1.7M58 100h1.7M59.9 99.8h1.7M62.2 100h1.7M69.7 99.8h1.7M71 99.8h1.7M72.2 100.1h1.7M73 100.3h1.7M73.9 99.7h1.7M76 100.2h1.7M77.9 100.1h1.7M79 100.3h1.7M80.1 100.1h1.7M83.2 99.7h1.7M84.3 100.1h1.7M84.9 100h1.7M85.7 100h1.7M86.7 100.2h1.7M87.7 100.3h1.7M90.3 100.3h1.7M91.2 99.7h1.7M94.3 99.9h1.7M122.8 99.8h1.7M123.7 100h1.7M132.3 100.2h1.7M55.3 100.7h1.7M58.9 101.1h1.7M61.2 100.7h1.7M61.8 101.3h1.7M67.8 101h1.7M69.1 100.9h1.7M70 100.7h1.7M72.2 100.8h1.7M72.8 101.1h1.7M74.2 101.3h1.7M76.1 101h1.7M77 100.9h1.7M77.7 100.7h1.7M79.3 101.1h1.7M81.2 101h1.7M81.7 100.7h1.7M83 100.7h1.7M83.7 101.3h1.7M84.8 101.2h1.7M86.8 101.3h1.7M87.7 100.9h1.7M91 101h1.7M96.8 100.7h1.7M98.8 101.3h1.7M101.9 100.8h1.7M106.1 100.7h1.7M124 101.3h1.7M52.2 101.7h1.7M53.7 101.8h1.7M55.9 101.7h1.7M56.7 101.9h1.7M58.1 102h1.7M60.1 101.7h1.7M61.8 102.3h1.7M64.7 101.7h1.7M67.9 102h1.7M69.3 101.8h1.7M70.1 101.9h1.7M71 101.8h1.7M72.3 101.7h1.7M73.1 101.9h1.7M74.1 101.8h1.7M74.8 102.2h1.7M76.3 101.9h1.7M76.8 102.3h1.7M78.1 101.8h1.7M80.7 102.3h1.7M82.2 102.3h1.7M83.8 102.1h1.7M88.1 102.1h1.7M95.8 102h1.7M99.8 102.2h1.7M103.9 101.8h1.7M115.1 101.9h1.7M122.2 101.7h1.7M134.7 101.8h1.7M62.7 103h1.7M68.1 102.7h1.7M69.3 103.3h1.7M69.8 102.7h1.7M70.8 103.2h1.7M72.3 103.3h1.7M74.2 103.1h1.7M75.2 103.1h1.7M75.9 102.9h1.7M76.8 102.8h1.7M78.1 102.9h1.7M79.1 103.2h1.7M80.3 102.8h1.7M81.2 102.9h1.7M82.2 102.7h1.7M84.2 102.9h1.7M84.9 103.2h1.7M85.7 103.3h1.7M88 102.9h1.7M89.2 103.2h1.7M90.9 103.1h1.7M92.2 102.9h1.7M92.9 103.3h1.7M95.9 102.7h1.7M97.1 103.2h1.7M111 102.7h1.7M117.7 103.1h1.7M123.2 102.8h1.7M51.1 104.2h1.7M54.9 104.3h1.7M65 103.8h1.7M66 103.9h1.7M68.3 103.8h1.7M68.9 103.7h1.7M70 104.3h1.7M70.8 104.2h1.7M72.1 104h1.7M73 103.7h1.7M74.7 104h1.7M75.9 104.2h1.7M77.1 103.8h1.7M79.1 103.8h1.7M79.9 103.7h1.7M82.2 103.7h1.7M83.1 103.8h1.7M84.1 103.9h1.7M85.3 104.3h1.7M86.2 103.7h1.7M86.7 104.1h1.7M88 103.9h1.7M89.2 103.8h1.7M92.7 104.2h1.7M97.3 104.2h1.7M99.7 103.8h1.7M109 103.8h1.7M150.9 104.2h1.7M61 105.1h1.7M62.7 105.2h1.7M64.1 104.9h1.7M64.7 105h1.7M65.8 105h1.7M66.9 104.8h1.7M68.2 105.3h1.7M68.9 104.8h1.7M70.8 105.1h1.7M71.7 104.7h1.7M72.8 105.2h1.7M75.3 105h1.7M76.2 104.7h1.7M77.2 104.8h1.7M78 104.9h1.7M79.7 104.8h1.7M81.3 105.1h1.7M81.9 104.7h1.7M83 104.9h1.7M84.2 105.2h1.7M89.2 104.8h1.7M89.7 105h1.7M90.9 105.1h1.7M92.1 104.9h1.7M93 105.2h1.7M94.1 105.3h1.7M95.3 104.8h1.7M97.9 105.1h1.7M100.2 105.1h1.7M111.1 104.9h1.7M111.9 105.3h1.7M115.2 105h1.7M128.3 105.3h1.7M129 105.1h1.7M134.1 105.3h1.7M140 104.8h1.7M53.9 105.7h1.7M55.8 105.7h1.7M58.7 105.9h1.7M62.7 105.8h1.7M63.8 105.8h1.7M66.3 106.2h1.7M68 106.3h1.7M69 105.8h1.7M72.2 105.9h1.7M73.7 106.1h1.7M76 106h1.7M77 106.3h1.7M77.8 106h1.7M79.1 105.8h1.7M80 106.2h1.7M81.1 105.9h1.7M83.1 105.9h1.7M88.8 105.9h1.7M89.9 105.7h1.7M93.9 106.3h1.7M101 106h1.7M108.3 105.7h1.7M116 105.9h1.7M123.8 105.8h1.7M127.7 106.3h1.7M54.8 106.7h1.7M57.2 106.8h1.7M57.7 106.7h1.7M59.9 107.2h1.7M61.7 107.2h1.7M69.8 107.2h1.7M71.8 106.9h1.7M73.3 106.8h1.7M74.7 107h1.7M75.9 107.3h1.7M76.9 107h1.7M78 107.1h1.7M78.7 107h1.7M79.9 107.2h1.7M80.8 106.8h1.7M82.1 106.8h1.7M83.7 107.1h1.7M85.8 107.2h1.7M87.7 106.9h1.7M90 107.3h1.7M94 106.7h1.7M104.7 107.3h1.7M112.8 106.9h1.7M61 107.7h1.7M61.9 108h1.7M62.8 107.7h1.7M66.7 108.2h1.7M68.1 107.9h1.7M70.1 108h1.7M70.9 108.3h1.7M74.9 107.7h1.7M78.3 108.1h1.7M78.9 107.8h1.7M82 108.2h1.7M82.8 108.1h1.7M87 108.1h1.7M92.7 107.8h1.7M105.2 108.1h1.7M109.9 107.8h1.7M118.3 108.1h1.7M126.8 107.9h1.7M128.2 108h1.7M62.1 108.8h1.7M64.1 108.8h1.7M67.8 109h1.7M70.3 109h1.7M70.8 108.7h1.7M76.9 109.1h1.7M79.3 109.2h1.7M79.7 108.8h1.7M82.2 109.1h1.7M82.9 108.8h1.7M83.9 109.1h1.7M85 109h1.7M87.7 108.9h1.7M98.1 109.1h1.7M108 109.1h1.7M111.2 108.7h1.7M114.3 109.2h1.7M114.7 108.7h1.7M118.7 109.3h1.7M120.9 108.8h1.7M122 109h1.7M125.7 108.9h1.7M130.3 108.7h1.7M137.7 108.9h1.7M51.7 110.2h1.7M52.9 109.8h1.7M54 110.3h1.7M58.8 110.2h1.7M60 110h1.7M63.8 110.1h1.7M70.1 110h1.7M72 109.8h1.7M74.2 110.2h1.7M75.2 109.8h1.7M76.8 110.1h1.7M79.7 110.2h1.7M81 110.1h1.7M83 110.3h1.7M84.1 109.9h1.7M85.3 109.9h1.7M87 109.9h1.7M88.2 109.8h1.7M91.9 110.1h1.7M96.9 110.1h1.7M99.7 109.9h1.7M116.7 109.9h1.7M118 110.1h1.7M128.2 109.8h1.7M134.7 110h1.7M156 109.7h1.7M52.2 111h1.7M56.3 111.2h1.7M63.1 111.2h1.7M70.9 111.1h1.7M71.8 110.7h1.7M73.3 110.7h1.7M74.1 111h1.7M75 111.1h1.7M76.2 110.8h1.7M77.2 111h1.7M78.1 110.8h1.7M78.7 111.1h1.7M80.7 111.1h1.7M82.3 111.3h1.7M82.7 110.7h1.7M83.7 111.3h1.7M85.2 111.1h1.7M86.9 110.8h1.7M88 110.8h1.7M89.8 110.8h1.7M91 111.2h1.7M92.1 110.7h1.7M92.8 110.9h1.7M95 110.9h1.7M95.8 110.8h1.7M100.9 111.2h1.7M109 111.3h1.7M116.9 110.9h1.7M119.2 110.8h1.7M124.9 110.7h1.7M143.8 111.3h1.7M58.8 112h1.7M59.7 111.9h1.7M62.1 112.1h1.7M66 112.3h1.7M69.9 112h1.7M71.7 112.3h1.7M73.3 112.2h1.7M74.3 111.8h1.7M74.7 111.8h1.7M75.7 112.1h1.7M76.9 111.9h1.7M78.2 111.8h1.7M80.2 111.9h1.7M81.2 111.7h1.7M82.8 111.7h1.7M85.2 111.8h1.7M89 111.9h1.7M92.3 112.3h1.7M98 112.3h1.7M100.7 111.7h1.7M105.3 112.2h1.7M108.9 112.1h1.7M112.2 112.3h1.7M113.3 112.3h1.7M115.3 112.3h1.7M116.3 112.2h1.7M125 111.8h1.7M125.9 112h1.7M130.1 112h1.7M137.2 112h1.7M152 112.3h1.7M64.2 113.1h1.7M65.9 113h1.7M67.1 113.2h1.7M69.1 113.3h1.7M71.7 113.1h1.7M72.7 112.7h1.7M73.7 113h1.7M75.3 112.8h1.7M76.7 112.7h1.7M77.7 113.1h1.7M79.1 112.7h1.7M80.1 112.7h1.7M80.9 113.3h1.7M82.3 113.3h1.7M82.8 112.8h1.7M83.7 112.8h1.7M84.7 112.7h1.7M85.9 113.1h1.7M87 113h1.7M88.8 113.2h1.7M90.2 113.2h1.7M95 112.8h1.7M97.7 113h1.7M98.7 113h1.7M102.2 112.7h1.7M111.1 112.9h1.7M113.1 113.2h1.7M114.2 113.2h1.7M115.8 112.9h1.7M119 113.3h1.7M124.9 112.8h1.7M126.2 113.1h1.7M134.9 113h1.7M58 113.9h1.7M65.9 114.3h1.7M68.3 113.9h1.7M69.1 114.3h1.7M70.8 113.7h1.7M71.7 113.7h1.7M73.1 114h1.7M75.3 114.2h1.7M78.1 114.2h1.7M78.7 113.7h1.7M80.1 113.7h1.7M83.8 113.7h1.7M86 113.7h1.7M87.2 114h1.7M88.2 113.7h1.7M89 113.9h1.7M92.1 113.8h1.7M95.3 113.9h1.7M98.8 114.3h1.7M116.3 113.7h1.7M129.3 113.8h1.7M130.1 114.2h1.7M55.9 114.9h1.7M57 114.7h1.7M63.8 115.1h1.7M66.3 114.7h1.7M74 115h1.7M75.3 114.9h1.7M75.8 114.7h1.7M77.3 114.9h1.7M77.7 115.2h1.7M79.2 114.9h1.7M79.7 115.1h1.7M81.8 114.7h1.7M83 114.7h1.7M84.2 114.9h1.7M86.1 114.8h1.7M87.8 115.3h1.7M89.2 114.9h1.7M91.8 115.3h1.7M94.1 114.9h1.7M95.2 114.7h1.7M96.8 114.7h1.7M98.3 115.2h1.7M101.2 114.9h1.7M102.2 114.7h1.7M109 114.9h1.7M113.8 115.1h1.7M116.1 115.2h1.7M121 115h1.7M132 115h1.7M143.1 115.1h1.7M56.7 116.3h1.7M61.2 115.9h1.7M65.1 116h1.7M66 116.3h1.7M67 116.1h1.7M69.3 115.8h1.7M72.9 115.9h1.7M73.7 115.9h1.7M76.1 116.1h1.7M77.2 116.1h1.7M81.1 115.9h1.7M82.2 115.7h1.7M83.9 115.7h1.7M84.8 116.1h1.7M86.2 115.8h1.7M86.8 116.1h1.7M90.3 116.2h1.7M92.1 115.7h1.7M93.9 115.9h1.7M95 116.1h1.7M95.7 115.7h1.7M99 116h1.7M105.2 116.1h1.7M116 115.9h1.7M124.3 116.2h1.7M128.7 116.2h1.7M130.2 115.9h1.7M55.2 117.1h1.7M61.3 117.2h1.7M62.7 117.2h1.7M65.9 117h1.7M66.7 117.1h1.7M68.9 117.3h1.7M69.8 116.7h1.7M71.7 116.9h1.7M73.3 116.8h1.7M73.8 117.1h1.7M75 117h1.7M77.7 117.1h1.7M79.2 116.9h1.7M80 117.3h1.7M83.9 117.2h1.7M85.1 117.3h1.7M86.7 117.2h1.7M87.7 116.9h1.7M88.7 117.3h1.7M91.3 116.9h1.7M93.3 116.7h1.7M94.1 117h1.7M103.2 116.8h1.7M104.9 117.2h1.7M105.8 117.2h1.7M111.1 116.9h1.7M113 116.8h1.7M113.8 117h1.7M115.3 117.3h1.7M115.7 116.7h1.7M118.1 116.9h1.7M129.2 117.2h1.7M55.2 117.7h1.7M67.9 117.7h1.7M71.2 118.2h1.7M72.7 118.2h1.7M76.2 117.7h1.7M77 117.9h1.7M81.9 118h1.7M86.7 118.3h1.7M89.1 117.8h1.7M100.2 117.8h1.7M104 117.7h1.7M105.9 118.1h1.7M108.8 118.3h1.7M112.1 118.1h1.7M114.9 118h1.7M116.1 117.9h1.7M116.8 118h1.7M59.3 119h1.7M60.2 118.7h1.7M64.2 119.3h1.7M64.8 119h1.7M68.1 119.3h1.7M68.7 119.3h1.7M69.9 118.9h1.7M73.1 118.7h1.7M74.2 119h1.7M75 119.1h1.7M75.7 119.1h1.7M77 119.2h1.7M78 119.2h1.7M79.1 118.9h1.7M82.1 118.8h1.7M82.9 119.2h1.7M84.9 119.3h1.7M88.2 119.1h1.7M88.7 119.3h1.7M90 119.2h1.7M92.8 118.9h1.7M99.9 118.8h1.7M109.1 118.8h1.7M114.3 119.2h1.7M121.8 118.8h1.7M126.3 118.8h1.7M136.3 118.9h1.7M53.7 119.7h1.7M56.7 119.9h1.7M59 120h1.7M59.8 120h1.7M65.2 119.7h1.7M66 119.7h1.7M71.9 120.3h1.7M75.2 120.3h1.7M76.1 120h1.7M79.3 120.2h1.7M80 120.2h1.7M81.8 120.1h1.7M84.3 119.7h1.7M87.3 120.3h1.7M92.2 120h1.7M94.1 120.2h1.7M96.7 120.2h1.7M99 119.7h1.7M110.9 120h1.7M117.9 119.7h1.7M119.8 119.7h1.7M125.8 120.2h1.7M130.1 120.1h1.7M131.3 120.1h1.7M132 120.2h1.7M134.7 119.9h1.7M149.8 120h1.7M57.1 120.9h1.7M60.1 121.1h1.7M63.8 120.7h1.7M66.7 120.9h1.7M71.1 120.7h1.7M73.7 121.3h1.7M74.9 120.8h1.7M80 120.8h1.7M83.1 121h1.7M84.7 120.8h1.7M87.7 120.8h1.7M109.8 121.3h1.7M112 121.3h1.7M117.9 121.1h1.7M121.7 120.7h1.7M122.8 121.1h1.7M126.9 120.9h1.7M131.2 121.1h1.7M133.2 120.9h1.7M138.2 121h1.7M141.3 120.9h1.7M52.7 122h1.7M57.8 121.9h1.7M58.7 122.1h1.7M59.9 122.2h1.7M61.3 122.3h1.7M62 122h1.7M63.7 122h1.7M65 122.2h1.7M66.9 122.2h1.7M70 122.1h1.7M70.9 122.1h1.7M73.3 122h1.7M73.7 122h1.7M76.8 122.3h1.7M79.1 122.1h1.7M79.8 121.7h1.7M82 121.9h1.7M83.1 122.3h1.7M87.3 121.9h1.7M92 122.1h1.7M101.1 121.9h1.7M107 122.3h1.7M112.2 122h1.7M137.3 122h1.7M51.9 123.1h1.7M66.2 123h1.7M67 123h1.7M68.3 123.2h1.7M68.8 123.3h1.7M69.9 123.2h1.7M70.8 123h1.7M72.2 123.2h1.7M75.7 122.9h1.7M77 122.9h1.7M80 122.9h1.7M81 122.7h1.7M81.9 123.1h1.7M83.2 123.1h1.7M86.2 122.8h1.7M86.9 123.2h1.7M87.9 123.1h1.7M90.1 123h1.7M92.2 122.8h1.7M97.2 122.7h1.7M97.7 122.9h1.7M100.3 123.2h1.7M104.8 123.2h1.7M108 122.9h1.7M109.2 122.9h1.7M110 123h1.7M111.1 123.2h1.7M116.2 123.2h1.7M117 122.8h1.7M122.7 123h1.7M128.3 122.7h1.7M128.9 122.8h1.7M131.2 123.1h1.7M138.1 123h1.7M53 123.7h1.7M54.8 124h1.7M55.7 124.2h1.7M58 124.1h1.7M63.7 123.8h1.7M64.7 124.3h1.7M66.8 123.9h1.7M67.7 124.1h1.7M69.1 123.7h1.7M72 124.1h1.7M76.1 123.9h1.7M76.7 124h1.7M77.9 123.7h1.7M78.8 123.7h1.7M80.7 124.3h1.7M88.2 123.7h1.7M89.3 123.9h1.7M89.9 123.8h1.7M91.7 124h1.7M92.7 123.9h1.7M95.3 123.9h1.7M101.1 124.3h1.7M106.8 123.8h1.7M109.2 123.9h1.7M117.3 124.1h1.7M126.2 123.7h1.7M128.3 123.9h1.7M131.7 124.3h1.7M139.9 124.2h1.7M61.9 124.8h1.7M62.8 125.3h1.7M66.3 125.3h1.7M66.9 124.9h1.7M74.1 124.9h1.7M76.2 125.1h1.7M77.9 125.3h1.7M79.3 124.8h1.7M79.7 125.2h1.7M81.1 124.7h1.7M87 124.7h1.7M87.9 125h1.7M91.8 124.8h1.7M93 125.1h1.7M96.9 125.1h1.7M101.3 125.2h1.7M101.7 125.1h1.7M106.1 125.3h1.7M106.8 125.2h1.7M111.2 125.3h1.7M121.3 125h1.7M124.2 125h1.7M126.2 124.8h1.7M131.8 125.1h1.7M134.3 125.3h1.7M135.1 125.1h1.7M136.9 124.8h1.7M61.8 126.3h1.7M63.7 126.3h1.7M69 126.3h1.7M69.7 126.2h1.7M72.1 125.7h1.7M72.7 126.2h1.7M73.7 126.2h1.7M75.8 125.9h1.7M76.7 125.9h1.7M81.3 125.9h1.7M82.2 126.1h1.7M82.9 125.8h1.7M84.8 125.9h1.7M86.3 125.9h1.7M86.7 126h1.7M88.8 126h1.7M95.9 126.3h1.7M105.7 125.7h1.7M107.8 125.9h1.7M115.1 125.8h1.7M117.1 126.2h1.7M120.1 125.7h1.7M120.8 126.2h1.7M123.9 126.1h1.7M124.8 125.8h1.7M130.3 125.7h1.7M131 126h1.7M133.9 126h1.7M135 126.2h1.7M55 127.1h1.7M56.7 126.7h1.7M60.7 126.7h1.7M63.1 127.3h1.7M63.9 126.9h1.7M64.9 127.3h1.7M66.2 127.3h1.7M68.9 127.2h1.7M71.2 127.2h1.7M72.1 127.1h1.7M73.2 126.7h1.7M74.9 126.8h1.7M76.2 127h1.7M80.9 126.7h1.7M84.3 126.9h1.7M84.9 127h1.7M90.7 127.3h1.7M91.8 126.9h1.7M94.2 126.9h1.7M96.2 127.1h1.7M100.8 127.2h1.7M121 126.9h1.7M123.1 127.2h1.7M125.2 127.2h1.7M127.7 126.9h1.7M50.9 127.9h1.7M58.1 128h1.7M61.2 128h1.7M63.3 128h1.7M68.1 128.3h1.7M71.2 128.2h1.7M72 128h1.7M72.9 127.8h1.7M74.7 127.7h1.7M77.2 128.1h1.7M81.9 127.9h1.7M84.3 128h1.7M85.2 128.1h1.7M87.1 128.3h1.7M89.8 128.1h1.7M90.7 128.3h1.7M96 127.8h1.7M100.7 128.1h1.7M101.9 127.9h1.7M113.9 127.9h1.7M115.3 128.1h1.7M116.7 128.1h1.7M119.8 127.9h1.7M123.1 128h1.7M136 128h1.7M50.8 128.9h1.7M60.1 129.1h1.7M61.3 129h1.7M66.3 129.3h1.7M68.7 128.7h1.7M73.7 128.7h1.7M74.9 129.2h1.7M81.1 128.9h1.7M81.9 128.7h1.7M83.7 128.8h1.7M89.3 129.1h1.7M94.7 128.7h1.7M97.2 129.3h1.7M98.8 129h1.7M99.7 129h1.7M100.7 129.1h1.7M107 128.9h1.7M109.3 128.9h1.7M112.3 129.2h1.7M114.9 128.9h1.7M116.3 129.3h1.7M117.2 128.7h1.7M123 129h1.7M126.7 128.9h1.7M127.8 128.9h1.7M144.1 129.3h1.7M59.1 130.1h1.7M61.7 129.9h1.7M64.2 130.1h1.7M72 130.3h1.7M73.3 130.3h1.7M73.7 129.7h1.7M74.7 129.8h1.7M81.7 130.2h1.7M84.1 130h1.7M85.8 129.8h1.7M88 130.3h1.7M94.3 130.3h1.7M97.1 130.2h1.7M98.9 130h1.7M105.1 129.9h1.7M106.3 130.2h1.7M107.2 129.8h1.7M108.1 129.8h1.7M110.3 130h1.7M112 130h1.7M113.9 130.3h1.7M120.2 130.3h1.7M120.7 130.3h1.7M126.8 130h1.7M129.1 129.7h1.7M130 130.3h1.7M131.1 129.9h1.7M138.8 130.1h1.7M59.2 130.8h1.7M60.3 130.7h1.7M66.7 131.2h1.7M68.9 131.1h1.7M70.2 130.9h1.7M70.9 131.2h1.7M73.7 131h1.7M74.9 131.2h1.7M78.1 131.2h1.7M79.9 130.8h1.7M82.1 131.1h1.7M85.3 131.1h1.7M85.8 131.3h1.7M87.2 131.1h1.7M88.8 131.3h1.7M89.7 130.7h1.7M94.2 131.2h1.7M94.7 131.1h1.7M95.8 130.8h1.7M97.3 131.3h1.7M98.3 131h1.7M106.3 131.2h1.7M107 131h1.7M108.3 131.1h1.7M114 131.3h1.7M117.2 130.9h1.7M122 131h1.7M123.8 131h1.7M127.2 131h1.7M133.8 130.9h1.7M135.2 131h1.7M60.7 131.8h1.7M62.3 131.7h1.7M63.1 131.9h1.7M63.8 131.9h1.7M64.7 132.3h1.7M70 131.8h1.7M70.9 131.8h1.7M73.2 132.3h1.7M75 132.1h1.7M76.1 131.9h1.7M77 132.3h1.7M77.9 131.8h1.7M80.2 132.3h1.7M81 132h1.7M81.7 132.2h1.7M83.1 131.8h1.7M85.3 131.8h1.7M86.3 132.1h1.7M87.2 132h1.7M87.7 132.2h1.7M89.3 131.7h1.7M93.8 131.7h1.7M95 132.3h1.7M95.8 131.7h1.7M101.2 131.7h1.7M103.1 131.7h1.7M104.2 132.3h1.7M105.9 132.1h1.7M107.1 132h1.7M108 132.1h1.7M110.3 131.8h1.7M111.1 131.8h1.7M112.9 132.2h1.7M115.8 132h1.7M116.7 132h1.7M117.7 132h1.7M138 131.9h1.7M54.8 132.7h1.7M56 133.2h1.7M58.3 132.7h1.7M62.9 133.3h1.7M66.3 133h1.7M66.8 133.3h1.7M70 133h1.7M71.3 132.7h1.7M71.7 132.7h1.7M72.8 132.8h1.7M75.7 132.9h1.7M77.2 132.9h1.7M80.2 132.7h1.7M84 133.2h1.7M85.3 132.9h1.7M88.1 132.8h1.7M90.2 133.3h1.7M92.9 133h1.7M96.9 132.8h1.7M99.1 132.8h1.7M104.8 133.1h1.7M106 133.2h1.7M115 133.1h1.7M118.8 133.3h1.7M122 133.1h1.7M124.9 132.9h1.7M126.1 133.3h1.7M127.8 133.2h1.7M128.8 133h1.7M130.3 133.2h1.7M133.9 133h1.7M141.3 133.3h1.7M54.8 133.8h1.7M55.8 134h1.7M59.9 134h1.7M60.7 133.8h1.7M61.8 133.7h1.7M62.7 133.7h1.7M67.2 134.3h1.7M68.3 134h1.7M70.2 133.9h1.7M71.1 134h1.7M71.8 134.2h1.7M72.8 134.3h1.7M74.7 134.3h1.7M75.9 133.8h1.7M79.3 134h1.7M80 133.8h1.7M82.2 133.8h1.7M83.3 133.9h1.7M91.9 133.7h1.7M94 134.1h1.7M97.9 134.1h1.7M101.7 133.9h1.7M106 134.1h1.7M107.2 133.9h1.7M108.7 134.2h1.7M109.7 134.2h1.7M112.1 133.8h1.7M112.8 134h1.7M114.3 133.8h1.7M116.1 133.7h1.7M118.3 134.2h1.7M119.8 134.2h1.7M141.2 133.7h1.7M66.3 135.3h1.7M68 134.7h1.7M69.3 134.9h1.7M72.1 134.9h1.7M74.3 135.2h1.7M75.1 134.8h1.7M76.8 135h1.7M78.3 135h1.7M81.7 134.8h1.7M86 134.7h1.7M87.1 134.9h1.7M92.3 135.3h1.7M93.3 135.2h1.7M93.9 135h1.7M100.3 135.3h1.7M103.1 135.2h1.7M105.2 135.3h1.7M107.7 135h1.7M110.9 135.3h1.7M116.2 135.1h1.7M119.1 134.8h1.7M122 135.3h1.7M126.1 134.8h1.7M138.1 135.2h1.7M149.7 135.1h1.7M52.1 136.1h1.7M57.7 136.2h1.7M61.3 135.7h1.7M64.1 135.8h1.7M66.1 136h1.7M67.1 136.1h1.7M67.7 135.7h1.7M68.7 135.8h1.7M70.1 135.8h1.7M73.3 135.7h1.7M73.8 136h1.7M75 135.9h1.7M78.9 136h1.7M79.9 135.9h1.7M80.7 135.9h1.7M83.3 135.9h1.7M85.1 135.8h1.7M87.8 136.3h1.7M92 136h1.7M92.9 136.3h1.7M94 136.1h1.7M95.9 136.1h1.7M97.7 136.2h1.7M98.9 136.2h1.7M104.7 136.1h1.7M110.1 136.2h1.7M111.1 135.8h1.7M115 136.2h1.7M121.9 136h1.7M127.2 135.9h1.7M129.3 135.8h1.7M130.3 135.9h1.7M130.8 136h1.7M134.7 135.7h1.7M136.9 135.7h1.7M142.3 135.9h1.7M56.9 137h1.7M58.2 137.3h1.7M59.8 136.7h1.7M63.3 137h1.7M67.3 137.2h1.7M68.2 136.9h1.7M69 137.1h1.7M75.2 136.7h1.7M83.7 136.7h1.7M85.2 137.2h1.7M86 136.7h1.7M86.8 136.9h1.7M94.7 137.2h1.7M96.2 137.2h1.7M97.9 137.3h1.7M99.3 137.2h1.7M100.3 137h1.7M104.2 136.9h1.7M113.3 137h1.7M113.9 136.7h1.7M118.8 137.3h1.7M120.3 137.3h1.7M121.1 137h1.7M129.9 136.8h1.7M132.1 137h1.7M134.1 137h1.7M56.3 137.8h1.7M57 138.2h1.7M60.8 137.9h1.7M61.9 138.3h1.7M63.1 138.3h1.7M64.3 137.7h1.7M67 137.8h1.7M68.1 138h1.7M70.8 138h1.7M71.7 137.8h1.7M72.9 137.7h1.7M73.7 138.2h1.7M76 138.1h1.7M77.3 138.3h1.7M82.9 138.3h1.7M86.1 137.7h1.7M87 137.8h1.7M88.9 137.8h1.7M94.9 137.9h1.7M107.2 138.1h1.7M107.7 137.9h1.7M112.7 138.1h1.7M115.9 137.9h1.7M120.9 137.7h1.7M122.3 137.8h1.7M125.7 137.7h1.7M134.3 138h1.7M142.1 137.8h1.7M151.8 137.8h1.7M54 139.2h1.7M55.9 138.7h1.7M59 138.8h1.7M60.8 139.1h1.7M64.1 139.3h1.7M65 139h1.7M65.9 138.8h1.7M69.2 139.2h1.7M70.8 138.7h1.7M75.9 139.3h1.7M78.3 139h1.7M82.2 138.8h1.7M82.9 138.8h1.7M85.8 139.1h1.7M90.8 139.3h1.7M92 139h1.7M93.1 138.8h1.7M97.7 138.9h1.7M99.9 139h1.7M102.7 138.8h1.7M107.8 138.8h1.7M109.7 139.2h1.7M114.1 139.2h1.7M115.9 138.9h1.7M120.3 138.9h1.7M121.3 139h1.7M125.8 138.8h1.7M128.1 139h1.7M128.9 139.3h1.7M130 139h1.7M132.7 139.2h1.7M133.8 138.8h1.7M140 138.9h1.7M52.2 140.2h1.7M58.1 140.3h1.7M62.2 140.2h1.7M64.9 140.1h1.7M66.9 140.3h1.7M70.7 140h1.7M72 140.3h1.7M73.7 139.7h1.7M74.8 139.8h1.7M75.7 139.9h1.7M77.2 139.9h1.7M77.8 139.8h1.7M82.2 140h1.7M82.9 139.8h1.7M84.9 140.3h1.7M86.3 140.3h1.7M87.7 139.8h1.7M89.9 140h1.7M92.2 140h1.7M94.3 139.8h1.7M96.3 139.7h1.7M103.2 140.3h1.7M104.9 140.2h1.7M107 140h1.7M108.3 140.3h1.7M113.3 139.9h1.7M114 140.2h1.7M115.8 139.8h1.7M119.3 139.7h1.7M121 139.7h1.7M129.9 139.7h1.7M132.2 140.3h1.7M144.2 139.7h1.7M51.7 141.2h1.7M53.8 141.3h1.7M56 140.9h1.7M62 141h1.7M66.2 141.2h1.7M74.8 141h1.7M80.1 141.2h1.7M82.3 140.8h1.7M86 141.3h1.7M87.7 140.9h1.7M91.8 140.8h1.7M93.2 141h1.7M93.8 140.7h1.7M95 141.3h1.7M98.1 141.3h1.7M100.7 140.9h1.7M103.1 140.7h1.7M104.8 140.9h1.7M110.2 140.9h1.7M113.3 141.1h1.7M114.2 141h1.7M114.9 140.9h1.7M121.3 140.7h1.7M121.8 141.1h1.7M125.3 140.8h1.7M132.3 140.7h1.7M135.3 140.8h1.7M140 141.3h1.7M140.7 141.2h1.7M50.8 141.8h1.7M53.8 141.7h1.7M61.9 141.8h1.7M62.9 141.7h1.7M65.9 142.1h1.7M68.7 142.2h1.7M70 142.1h1.7M70.8 141.9h1.7M72.9 141.8h1.7M73.7 141.7h1.7M81.1 142h1.7M82 141.9h1.7M83.2 142.2h1.7M83.9 142.1h1.7M89 142.1h1.7M91.8 142h1.7M92.8 141.7h1.7M93.7 142.3h1.7M95 142.2h1.7M96.2 141.8h1.7M97.9 142.3h1.7M99.9 142h1.7M100.8 141.9h1.7M105.7 142h1.7M107.1 141.7h1.7M109 141.9h1.7M115.2 141.7h1.7M115.7 141.8h1.7M119.3 142h1.7M121.8 142.1h1.7M123.2 142.3h1.7M123.9 142h1.7M126.8 141.8h1.7M129.9 141.8h1.7M131.1 142h1.7M133 142h1.7M51 142.9h1.7M56.7 142.8h1.7M60.9 142.9h1.7M63 142.7h1.7M65.8 143.2h1.7M68.8 142.9h1.7M70.8 142.7h1.7M71.9 142.9h1.7M73.1 143h1.7M74.9 142.9h1.7M76.8 143.1h1.7M77.7 143.1h1.7M78.9 143.2h1.7M79.7 143.3h1.7M80.9 143h1.7M88.3 143.2h1.7M90.1 143.2h1.7M91.1 142.9h1.7M97.7 143.1h1.7M100.8 142.7h1.7M101.9 142.7h1.7M119.2 143.1h1.7M122.2 143h1.7M125.7 143.2h1.7M127.9 142.8h1.7M129.9 143h1.7M132.1 143h1.7M137.8 143.2h1.7M144.9 143.1h1.7M147.2 143.2h1.7M156.2 143.2h1.7M51.9 143.8h1.7M52.8 143.7h1.7M54 143.9h1.7M57.9 143.9h1.7M63.3 143.8h1.7M64.3 144h1.7M67 144.3h1.7M68.1 143.8h1.7M75.8 143.8h1.7M76.7 144h1.7M78.1 143.9h1.7M78.7 144.2h1.7M80.2 144.2h1.7M82.3 143.7h1.7M87.7 144.2h1.7M89.3 143.8h1.7M90.1 143.8h1.7M91 144.2h1.7M93.7 144h1.7M97.9 143.8h1.7M100.7 143.7h1.7M103.2 144.2h1.7M104.2 144.2h1.7M104.8 144.3h1.7M105.8 144h1.7M115.9 143.8h1.7M122.8 144.3h1.7M125.9 144h1.7M130.3 143.9h1.7M135 144.1h1.7M139.1 143.9h1.7M51.3 144.7h1.7M51.7 145.2h1.7M54.8 144.9h1.7M58.9 145.2h1.7M59.8 145.3h1.7M63.1 145.2h1.7M68.2 145h1.7M71.2 144.9h1.7M73.7 144.9h1.7M75.9 145h1.7M77 144.9h1.7M78 144.9h1.7M78.7 144.8h1.7M80.1 145.3h1.7M83.3 145.2h1.7M83.7 145h1.7M87.3 144.7h1.7M88.3 144.7h1.7M88.7 145.1h1.7M93 145.3h1.7M93.7 145.2h1.7M96.9 144.8h1.7M105.3 145h1.7M106.3 145.1h1.7M107.3 145.2h1.7M109.2 145.2h1.7M109.7 144.7h1.7M113.9 144.8h1.7M116.2 144.7h1.7M116.7 144.8h1.7M118.2 144.7h1.7M120.2 145.3h1.7M121.2 145.1h1.7M123.9 144.7h1.7M127 144.8h1.7M50.8 145.8h1.7M55.8 146h1.7M62.3 145.8h1.7M62.7 145.9h1.7M65.8 146h1.7M66.7 145.7h1.7M68.2 146h1.7M75.2 146.1h1.7M77.9 145.7h1.7M79.2 145.8h1.7M82.2 146h1.7M83.3 146h1.7M87.3 145.7h1.7M87.7 146.1h1.7M88.7 146.1h1.7M89.8 145.8h1.7M90.7 145.8h1.7M93.9 145.7h1.7M95.2 145.7h1.7M97.1 146h1.7M102.1 146h1.7M105.2 145.7h1.7M107.8 146h1.7M108.7 145.7h1.7M111.7 145.7h1.7M113.1 145.9h1.7M119.2 146.2h1.7M120.2 145.8h1.7M121 145.9h1.7M131.7 146h1.7M135.3 146h1.7M51.8 147h1.7M55.1 147.3h1.7M56.9 146.7h1.7M60.7 147.1h1.7M68.2 146.8h1.7M69 147h1.7M70.3 147.2h1.7M72 147.3h1.7M73.3 147h1.7M75.7 146.7h1.7M76.9 146.7h1.7M78.8 147h1.7M81.7 147.3h1.7M86.7 147.1h1.7M90.1 146.7h1.7M91 147.3h1.7M94.3 147.3h1.7M95.7 146.8h1.7M97.9 146.8h1.7M98.7 146.9h1.7M99.7 147.3h1.7M102.8 146.7h1.7M111.3 147.3h1.7M111.8 147.2h1.7M116.2 146.8h1.7M116.8 146.7h1.7M123.1 147.1h1.7M138.2 147.2h1.7M56.9 148.3h1.7M57.8 148.2h1.7M62.7 147.7h1.7M65.7 147.9h1.7M69 148.1h1.7M69.8 148.3h1.7M71 148.2h1.7M73.2 147.7h1.7M82 148h1.7M84 148.3h1.7M85 147.9h1.7M86.1 148.2h1.7M88.1 148.2h1.7M88.8 148h1.7M89.8 148.1h1.7M94 148h1.7M96 147.7h1.7M97 147.7h1.7M98.7 148h1.7M99.7 148.1h1.7M102.9 148.2h1.7M103.7 147.7h1.7M106 148.3h1.7M108.2 147.8h1.7M109 147.9h1.7M109.8 148h1.7M113 147.7h1.7M114.2 148.2h1.7M114.8 148h1.7M116.8 147.9h1.7M122.3 148.3h1.7M125.3 148.1h1.7M125.9 148.1h1.7M127.1 148.3h1.7M127.9 147.9h1.7M51 148.8h1.7M51.8 148.8h1.7M60 148.9h1.7M61 148.7h1.7M66 148.7h1.7M66.8 149.2h1.7M67.9 148.8h1.7M69.2 148.9h1.7M71.8 149.1h1.7M72.8 149h1.7M75 149.3h1.7M79 149h1.7M80 149.2h1.7M82.3 148.7h1.7M83 148.8h1.7M87.9 148.9h1.7M90.2 149.1h1.7M94.1 148.7h1.7M95.8 148.7h1.7M102 149.2h1.7M104.7 148.7h1.7M107.3 149.2h1.7M108.8 148.7h1.7M116.7 149.1h1.7M124.8 149h1.7M128 148.8h1.7M129.9 148.7h1.7M131.7 149.1h1.7M134.3 148.7h1.7M138 148.7h1.7M142.9 148.8h1.7M146.7 148.8h1.7M54.2 150.1h1.7M56.9 150.1h1.7M60.7 150h1.7M68.9 149.7h1.7M70.2 150.2h1.7M71 150h1.7M72 149.9h1.7M75.2 149.9h1.7M76.8 150.1h1.7M80.2 150.1h1.7M81.3 149.8h1.7M81.9 149.8h1.7M83 150h1.7M84.2 150.2h1.7M88.2 150.3h1.7M89.2 150.1h1.7M89.9 150.2h1.7M91.3 150.2h1.7M92.2 149.8h1.7M93.8 150.3h1.7M98.2 150.3h1.7M100.9 149.8h1.7M102.3 150.3h1.7M106.8 149.7h1.7M109 149.7h1.7M112 150h1.7M114.7 150.3h1.7M116.2 150h1.7M118.3 150h1.7M119.8 150.3h1.7M124 150.1h1.7M128.1 150h1.7M129 149.8h1.7M132.1 149.8h1.7M135.7 150h1.7M142 149.8h1.7M58.3 151h1.7M61.3 151h1.7M61.9 151.2h1.7M62.9 151h1.7M64.7 151h1.7M67.2 151.3h1.7M68.3 150.7h1.7M69.3 150.7h1.7M72.8 151h1.7M74.3 151h1.7M75.2 150.9h1.7M75.9 150.7h1.7M80.7 150.8h1.7M81.9 151.3h1.7M88.8 150.9h1.7M91.1 150.7h1.7M92.9 151.1h1.7M95.3 150.7h1.7M96.1 150.9h1.7M100.9 150.9h1.7M104 151.2h1.7M104.9 151.3h1.7M106.8 150.8h1.7M109.8 150.7h1.7M111.8 151h1.7M113.3 151h1.7M115.7 151.3h1.7M120.3 150.8h1.7M120.9 150.7h1.7M123.1 151h1.7M124.8 151.1h1.7M126.3 150.9h1.7M133.9 150.7h1.7M137.9 151.1h1.7M53 152.3h1.7M55.1 151.7h1.7M56.9 151.7h1.7M58.2 152.2h1.7M60 151.9h1.7M60.9 152.3h1.7M68 151.7h1.7M71 152h1.7M73.3 151.9h1.7M74.3 151.8h1.7M76.3 151.8h1.7M78 151.9h1.7M79.7 151.8h1.7M80.9 151.7h1.7M82 152.1h1.7M86.7 152.1h1.7M89.3 152h1.7M90.1 151.7h1.7M92.3 151.7h1.7M92.9 151.7h1.7M94.8 152.3h1.7M101.7 151.7h1.7M103.2 151.9h1.7M104 152.3h1.7M107.2 152.2h1.7M108.1 151.9h1.7M108.8 152.1h1.7M110.2 152.1h1.7M111 152.2h1.7M111.7 152h1.7M112.9 152.1h1.7M117.8 152.3h1.7M121.8 151.7h1.7M124.7 152.1h1.7M130.7 151.8h1.7M132.3 152.3h1.7M52.3 152.9h1.7M52.9 153h1.7M59.1 152.7h1.7M63 153h1.7M64.3 153h1.7M66.2 153.3h1.7M67.7 153.2h1.7M68.9 153.3h1.7M69.8 153.2h1.7M71.1 152.8h1.7M71.9 153.3h1.7M73.3 153.3h1.7M76.1 153.3h1.7M76.9 153h1.7M79.2 153.1h1.7M79.8 153.1h1.7M80.9 152.7h1.7M82.3 152.9h1.7M83 152.7h1.7M83.7 152.9h1.7M86.9 152.9h1.7M88.1 152.7h1.7M92.2 152.9h1.7M93 152.7h1.7M95.7 153.1h1.7M99.1 153.2h1.7M99.7 153.3h1.7M104.3 153.1h1.7M110.9 152.9h1.7M115.1 153.1h1.7M115.7 153.2h1.7M120.7 153h1.7M122.3 152.7h1.7M124.9 153h1.7M125.7 153.1h1.7M131.1 152.7h1.7M53.1 154h1.7M54.2 153.9h1.7M58.1 154.1h1.7M60.7 153.9h1.7M63.9 154.3h1.7M65 154h1.7M65.8 153.8h1.7M69.7 154.1h1.7M74.2 154.2h1.7M75.1 153.8h1.7M76.3 154.2h1.7M77.3 154.2h1.7M79.3 154.3h1.7M80.3 154.1h1.7M81 154.2h1.7M83.2 154h1.7M84.2 153.8h1.7M86.2 153.8h1.7M87.1 154.1h1.7M87.7 154.2h1.7M89.2 154h1.7M93.3 154h1.7M95.2 153.9h1.7M95.7 154.3h1.7M97.9 153.7h1.7M99.1 153.8h1.7M100.2 153.9h1.7M100.8 154.2h1.7M103.8 153.9h1.7M105.9 154.3h1.7M108.2 153.8h1.7M109.7 154h1.7M110.7 154.3h1.7M113.3 154.1h1.7M114 153.9h1.7M118 153.9h1.7M120.2 154h1.7M120.9 153.9h1.7M127.2 154.3h1.7M129.7 153.9h1.7M140.8 154.2h1.7M145.3 154.2h1.7M155.3 154.3h1.7M51.1 154.8h1.7M52.3 155.1h1.7M53.2 155.1h1.7M55.3 154.8h1.7M57.9 155.2h1.7M63.1 154.8h1.7M65.3 155.3h1.7M67 154.9h1.7M69 154.8h1.7M71.9 155.3h1.7M73.9 154.9h1.7M75.1 155.3h1.7M76 154.8h1.7M76.9 154.9h1.7M84.3 155h1.7M85.8 154.9h1.7M88.3 154.7h1.7M90.1 155.3h1.7M91.2 154.7h1.7M92 155.3h1.7M95.7 155h1.7M98.2 155.2h1.7M100 155.2h1.7M102.1 154.7h1.7M106 154.7h1.7M107 154.9h1.7M109.3 155h1.7M115.3 154.9h1.7M120.3 155.2h1.7M126.1 155.3h1.7M127.1 155.2h1.7M134 154.9h1.7M142.8 154.8h1.7M147.8 155.2h1.7M51 156.3h1.7M52.3 156.1h1.7M54.3 156.1h1.7M55.1 155.9h1.7M55.8 156h1.7M57.1 155.7h1.7M61.1 155.9h1.7M63 156h1.7M63.8 156.2h1.7M65.1 155.8h1.7M66.2 156.2h1.7M67.8 156h1.7M69.7 155.7h1.7M71.3 155.9h1.7M71.8 156.3h1.7M73 156h1.7M73.9 156.3h1.7M75 155.8h1.7M76.1 155.7h1.7M76.9 155.9h1.7M78.8 155.8h1.7M79.8 155.9h1.7M81.2 156h1.7M82 156.2h1.7M84.8 155.9h1.7M88.2 155.7h1.7M89.2 155.8h1.7M90.3 156h1.7M91 156.2h1.7M91.7 156.2h1.7M96.3 155.7h1.7M100.2 155.9h1.7M101 155.9h1.7M109.8 155.8h1.7M115.8 156.3h1.7M117.8 155.7h1.7M121.1 156.2h1.7M123.3 156.3h1.7M128.1 156h1.7M129.1 156h1.7M129.9 156.3h1.7M130.9 156.2h1.7M132.7 156.3h1.7M134.2 155.8h1.7M137.8 156h1.7M140.2 155.9h1.7M50.7 157.1h1.7M52.7 156.7h1.7M54.1 157.3h1.7M54.7 157.1h1.7M56.8 157.2h1.7M59.1 156.7h1.7M59.7 156.8h1.7M62 156.8h1.7M63 157h1.7M64.1 156.7h1.7M65.2 157.2h1.7M66.2 156.9h1.7M67 156.7h1.7M68.3 157.2h1.7M71 157h1.7M71.7 157.1h1.7M73.2 157.1h1.7M74 157.2h1.7M74.9 157h1.7M76.9 156.9h1.7M80.1 156.8h1.7M82.1 157.3h1.7M83.3 156.8h1.7M84 157.2h1.7M88.3 156.8h1.7M89.9 157.1h1.7M91.8 156.8h1.7M94.8 157.2h1.7M95.9 157.2h1.7M102.1 156.8h1.7M102.8 157.2h1.7M103.8 157.1h1.7M105.2 157.3h1.7M108.3 156.8h1.7M110.7 157.2h1.7M114 157.3h1.7M115.1 156.9h1.7M117.7 156.7h1.7M119 157.1h1.7M120.8 157.1h1.7M127 157.2h1.7M133.2 156.9h1.7M152.1 156.7h1.7M53.8 158h1.7M55.3 158.2h1.7M57.2 157.8h1.7M59 157.8h1.7M61 157.7h1.7M62.7 158.2h1.7M65.3 157.7h1.7M65.9 157.9h1.7M67.2 158.3h1.7M67.9 157.8h1.7M69 157.9h1.7M74.1 157.8h1.7M76.3 158.1h1.7M76.9 157.9h1.7M78.2 157.8h1.7M78.8 157.9h1.7M79.9 157.8h1.7M81.8 158.1h1.7M84.7 157.9h1.7M85.7 158.2h1.7M86.7 157.8h1.7M88.2 157.8h1.7M91.2 158.1h1.7M92.7 157.7h1.7M94.2 158.3h1.7M95.9 157.7h1.7M99 158.1h1.7M99.7 158.1h1.7M100.7 158.1h1.7M103.8 158.1h1.7M108.8 157.8h1.7M115.9 157.8h1.7M122.3 157.9h1.7M125.9 158.2h1.7M128.2 158.1h1.7M130 157.8h1.7M50.8 158.8h1.7M52.1 158.9h1.7M54 159.2h1.7M56.2 158.9h1.7M56.8 159.3h1.7M59 159.1h1.7M60.3 159.3h1.7M60.7 159.3h1.7M64.2 159.2h1.7M64.8 159h1.7M67.9 159.3h1.7M70 159.3h1.7M71 158.9h1.7M71.8 158.7h1.7M73.7 159.2h1.7M77.2 159h1.7M77.8 159.3h1.7M78.8 159h1.7M79.8 158.8h1.7M81 158.9h1.7M82.2 159.1h1.7M82.8 158.9h1.7M84.3 158.7h1.7M84.7 158.9h1.7M88.2 159.2h1.7M88.7 158.8h1.7M90.8 158.9h1.7M91.7 159.3h1.7M94.3 158.8h1.7M94.9 159.3h1.7M95.8 159.3h1.7M97.1 158.9h1.7M98.7 158.7h1.7M100.1 159.1h1.7M101.2 159.2h1.7M101.7 159h1.7M102.9 159.1h1.7M104 158.7h1.7M106.1 158.9h1.7M107.1 159.1h1.7M111.2 159.3h1.7M115.9 159.1h1.7M117.1 158.8h1.7M117.8 159.3h1.7M130.7 158.7h1.7M145.2 159.3h1.7M146.3 158.9h1.7M50.7 160.3h1.7M52.8 160h1.7M55 160.1h1.7M60.7 159.9h1.7M62.8 159.8h1.7M64.1 160h1.7M65 160h1.7M66.1 159.7h1.7M68.2 160h1.7M69 160.1h1.7M71 159.7h1.7M71.8 160.1h1.7M74 159.8h1.7M74.8 159.8h1.7M76.2 160h1.7M77.3 160.3h1.7M77.9 160.1h1.7M78.8 160.3h1.7M79.9 160h1.7M82.9 159.7h1.7M84.3 160h1.7M84.8 160h1.7M86 160h1.7M88.2 160.3h1.7M93.8 160h1.7M94.7 160.2h1.7M96.3 160.2h1.7M97 159.7h1.7M98.9 159.8h1.7M100.1 159.7h1.7M105.7 160h1.7M106.9 159.8h1.7M108.1 160.2h1.7M110.1 160h1.7M110.9 159.7h1.7M113.7 160h1.7M115.8 159.8h1.7M118.2 160.2h1.7M120 160h1.7M121.8 159.7h1.7M122.8 160.1h1.7M124.3 159.7h1.7M124.9 159.9h1.7M127.3 160h1.7M128.9 159.8h1.7M136.3 160.2h1.7M142.2 160h1.7M145 160.2h1.7M54.1 160.9h1.7M55 160.9h1.7M55.8 161.3h1.7M56.8 160.7h1.7M58 160.9h1.7M59.3 161h1.7M60.2 160.9h1.7M60.7 161.3h1.7M62.3 161.3h1.7M64.2 161.2h1.7M64.8 161h1.7M67.2 160.8h1.7M67.8 160.9h1.7M68.7 161.3h1.7M71.3 160.8h1.7M73.2 160.8h1.7M74.2 160.8h1.7M75.2 161.2h1.7M76.2 160.8h1.7M79.1 160.8h1.7M79.7 161.3h1.7M80.9 160.9h1.7M83 160.7h1.7M83.9 160.8h1.7M86 160.7h1.7M86.8 161h1.7M87.8 160.8h1.7M90.2 161.3h1.7M91.1 160.9h1.7M91.7 160.8h1.7M97.9 161.3h1.7M100 161.3h1.7M110.8 161.2h1.7M114 161h1.7M115 160.9h1.7M115.9 161h1.7M116.7 161.2h1.7M120.7 160.8h1.7M121.7 160.9h1.7M124.3 161.1h1.7M126 160.7h1.7M126.8 160.8h1.7M134.7 160.8h1.7M137 161h1.7M142.3 161h1.7M50.8 161.7h1.7M52.7 161.8h1.7M54 162h1.7M54.9 161.9h1.7M57.1 162.1h1.7M58.1 162.3h1.7M59.8 162.2h1.7M63 161.7h1.7M64.8 161.9h1.7M65.9 162h1.7M67.7 161.7h1.7M68.9 161.9h1.7M69.8 161.8h1.7M72.8 161.9h1.7M74.3 162.2h1.7M76.2 162.3h1.7M77.1 162.2h1.7M79.3 162.3h1.7M80 162h1.7M80.8 161.9h1.7M82.7 162.2h1.7M84 162.2h1.7M85.3 162.3h1.7M85.9 162.3h1.7M87.9 162.2h1.7M89.7 161.9h1.7M92.2 161.7h1.7M93.2 162.2h1.7M94.1 162.3h1.7M94.7 162h1.7M97 162.2h1.7M99.1 162.3h1.7M103.2 162h1.7M103.9 162h1.7M107 162.3h1.7M109.2 161.9h1.7M110.2 162.1h1.7M112.3 162.2h1.7M114.2 161.8h1.7M117 161.7h1.7M117.9 162h1.7M119.8 162.3h1.7M122 162.1h1.7M125.8 162.3h1.7M131.2 162.2h1.7M133.1 162h1.7M136.2 162h1.7M143 161.8h1.7M145.3 162.1h1.7M51.9 162.7h1.7M52.7 162.7h1.7M55.1 163h1.7M56.1 163.1h1.7M59.1 163.1h1.7M61.7 163h1.7M62.9 162.8h1.7M64.8 163h1.7M66.1 162.9h1.7M67.7 163.1h1.7M69 162.9h1.7M70.3 162.7h1.7M71 162.8h1.7M73 163h1.7M76.3 163.1h1.7M76.9 162.9h1.7M78.1 163.3h1.7M79.9 162.8h1.7M80.7 162.8h1.7M82.3 162.9h1.7M83.1 162.8h1.7M83.8 162.8h1.7M86.1 162.8h1.7M88.3 163.3h1.7M89 163.3h1.7M89.8 162.8h1.7M90.8 162.9h1.7M96.2 163h1.7M96.7 163.3h1.7M98.1 163h1.7M100.3 163.1h1.7M100.8 163.3h1.7M102.3 162.7h1.7M103.1 163h1.7M105.8 163.3h1.7M110.1 162.8h1.7M126.8 162.7h1.7M128.8 163.2h1.7M130.1 163.3h1.7M131.9 163h1.7M136.7 162.9h1.7M138.1 162.9h1.7M148 163.1h1.7M152.1 162.9h1.7M51 163.8h1.7M52.2 163.9h1.7M53.1 163.8h1.7M54.1 164h1.7M55.9 164.2h1.7M56.9 163.8h1.7M57.9 164.1h1.7M58.8 163.8h1.7M60 163.8h1.7M62 163.7h1.7M63.2 163.9h1.7M64 164.1h1.7M64.7 164h1.7M65.8 164h1.7M66.7 164.1h1.7M68.3 163.9h1.7M69.2 164.3h1.7M74 164h1.7M76.2 164.2h1.7M77.7 164.1h1.7M79 164.1h1.7M79.8 163.8h1.7M81 163.8h1.7M81.8 163.8h1.7M82.9 163.7h1.7M83.7 164.1h1.7M84.7 163.9h1.7M85.9 163.9h1.7M86.7 164.1h1.7M88.3 164.1h1.7M88.9 164.1h1.7M92.7 163.8h1.7M94 163.9h1.7M94.9 164h1.7M95.7 164.3h1.7M97.9 164h1.7M101.7 164.1h1.7M104.1 164.3h1.7M104.7 163.7h1.7M108.2 164.2h1.7M108.9 164.2h1.7M109.8 164.1h1.7M115.9 164.3h1.7M118.8 164.3h1.7M119.7 163.8h1.7M121.2 164.2h1.7M122.9 164.3h1.7M124.2 164h1.7M135.2 164.3h1.7M136.9 164.3h1.7M140.2 164h1.7M141.3 163.9h1.7M51 165.3h1.7M51.8 164.8h1.7M52.7 165h1.7M53.7 165.2h1.7M57.3 164.8h1.7M58.2 164.8h1.7M58.7 164.7h1.7M61.2 165h1.7M61.8 164.7h1.7M63.1 164.7h1.7M63.8 165.1h1.7M67.3 165.3h1.7M68.9 164.8h1.7M70 165h1.7M70.7 164.9h1.7M72.9 165.3h1.7M74.3 165.1h1.7M75.7 165.2h1.7M77 165.1h1.7M78.7 165.3h1.7M79.8 165.3h1.7M81.3 165.3h1.7M83.2 165.3h1.7M84 165.2h1.7M85 164.7h1.7M85.8 164.9h1.7M86.7 164.9h1.7M88.3 165h1.7M91.1 164.8h1.7M93.1 164.9h1.7M94.1 164.7h1.7M95 165.1h1.7M97.3 165.2h1.7M99.1 164.7h1.7M100 165.1h1.7M101.3 165.3h1.7M105.2 165.1h1.7M107.7 164.9h1.7M108.7 165.3h1.7M111.2 165.2h1.7M112.2 165.3h1.7M115.8 164.8h1.7M117.3 165.2h1.7M119 165.2h1.7M121.8 164.9h1.7M123.1 164.9h1.7M128.9 164.9h1.7M137.2 165h1.7M142.9 165.3h1.7M51.9 165.8h1.7M56.1 166h1.7M57.8 165.7h1.7M59.3 165.8h1.7M60 166.3h1.7M61.3 166.3h1.7M64.3 165.7h1.7M64.8 166.3h1.7M66.9 165.9h1.7M67.7 166.1h1.7M69 166.3h1.7M70.8 166.1h1.7M72 165.8h1.7M73.2 165.9h1.7M74.1 166.2h1.7M74.7 165.8h1.7M76.2 166.3h1.7M77.8 166.2h1.7M78.8 165.8h1.7M79.9 166.1h1.7M81.9 165.9h1.7M83.3 166h1.7M84.2 166.1h1.7M85 165.8h1.7M86.2 165.8h1.7M87 165.7h1.7M88.7 166.3h1.7M89.9 166h1.7M90.7 165.9h1.7M93.3 166.1h1.7M94 165.9h1.7M95 166.3h1.7M95.8 166.1h1.7M97.1 165.8h1.7M99.1 166.1h1.7M100.7 166.1h1.7M101.9 166.2h1.7M105.8 165.9h1.7M106.7 165.7h1.7M111.3 166.3h1.7M113.1 165.9h1.7M116.7 165.8h1.7M119.8 165.8h1.7M121.8 166h1.7M123.8 165.7h1.7M125.2 165.8h1.7M127.1 166.3h1.7M128 166.1h1.7M132.3 165.8h1.7M132.9 166.1h1.7M134.1 165.8h1.7M137.2 165.8h1.7M146.3 165.7h1.7M149.9 165.8h1.7M50.8 166.9h1.7M52.9 167.1h1.7M53.7 166.9h1.7M55 166.7h1.7M57 167.3h1.7M60.9 166.7h1.7M62 167.3h1.7M63.3 167.3h1.7M63.9 167.2h1.7M64.9 167.2h1.7M66.1 166.7h1.7M66.8 167.2h1.7M69.2 167.1h1.7M70 166.7h1.7M71 167.1h1.7M71.9 167.1h1.7M73.3 167.1h1.7M73.9 167.2h1.7M75.2 166.9h1.7M75.7 166.7h1.7M77.2 167.3h1.7M77.7 166.8h1.7M79.1 167.2h1.7M79.8 167h1.7M80.9 166.8h1.7M83.2 167.1h1.7M85.9 166.8h1.7M87 166.7h1.7M89 166.7h1.7M89.7 167.1h1.7M91.3 166.7h1.7M92.3 167.1h1.7M93.9 167.1h1.7M95.1 166.7h1.7M97.2 167.3h1.7M99 166.8h1.7M99.9 166.8h1.7M102 167.3h1.7M103.1 167.1h1.7M104.3 166.9h1.7M106.9 167.2h1.7M108.9 166.9h1.7M113.7 166.9h1.7M115.2 167.1h1.7M118.1 167.1h1.7M119.8 167.3h1.7M123.2 167.2h1.7M124.2 166.7h1.7M128.8 167.1h1.7M130.3 166.8h1.7M132.3 167h1.7M133.7 167.1h1.7M50.9 167.9h1.7M53.8 167.7h1.7M54.9 167.9h1.7M56.3 167.7h1.7M57.7 168h1.7M62 167.8h1.7M62.7 167.8h1.7M64.3 167.8h1.7M65.1 168.2h1.7M67.3 168.3h1.7M68.9 168h1.7M69.9 168.2h1.7M71.3 168.1h1.7M72 168.3h1.7M73.2 168h1.7M74.2 168.3h1.7M75.2 168.2h1.7M76.3 167.8h1.7M77.2 168.3h1.7M79.2 168.3h1.7M80 168.1h1.7M80.7 168.2h1.7M82 167.9h1.7M83 167.7h1.7M83.8 168h1.7M85.8 168.2h1.7M87 168.1h1.7M88.8 168h1.7M90 168.1h1.7M91 167.7h1.7M93.2 168.1h1.7M93.7 168.2h1.7M94.9 168.3h1.7M95.8 168.2h1.7M97.8 168h1.7M99.7 167.8h1.7M101.8 168.2h1.7M102.7 168h1.7M103.7 167.9h1.7M105 168.3h1.7M108 167.7h1.7M112.2 168.3h1.7M112.7 168.1h1.7M118 167.9h1.7M119.7 168.1h1.7M127.2 168.1h1.7M129.1 168.3h1.7M131.8 167.7h1.7M134.7 167.7h1.7M135.8 168.2h1.7M50.8 168.8h1.7M52 168.8h1.7M52.9 168.9h1.7M54.1 168.9h1.7M56.1 169.1h1.7M56.8 168.8h1.7M60.3 168.9h1.7M61.9 168.8h1.7M63.2 168.7h1.7M64 169.3h1.7M64.7 169h1.7M66.9 169.2h1.7M68.1 169.3h1.7M69.9 168.8h1.7M71.2 168.9h1.7M72 168.8h1.7M73.3 168.8h1.7M73.9 169.2h1.7M75.1 168.9h1.7M75.9 168.8h1.7M77.2 168.9h1.7M78.8 168.9h1.7M79.9 169.2h1.7M81 169.3h1.7M83.3 169.1h1.7M84.1 169.3h1.7M84.8 168.8h1.7M86 169h1.7M87.9 168.9h1.7M88.9 169.3h1.7M91.2 169.2h1.7M92.1 169h1.7M93.3 169.2h1.7M94.1 168.8h1.7M94.7 168.9h1.7M95.9 168.7h1.7M99 169.1h1.7M99.8 169.3h1.7M102.3 169.3h1.7M103.7 169.1h1.7M106.7 168.7h1.7M113.1 168.9h1.7M115 169h1.7M117.3 169.1h1.7M117.9 168.8h1.7M119.1 168.8h1.7M120.9 169.3h1.7M121.7 169.2h1.7M124.1 169.3h1.7M127.3 169.1h1.7M129.3 169h1.7M130.2 169.3h1.7M132.3 169.1h1.7M135.7 169.2h1.7M137.2 169.1h1.7M144.3 168.8h1.7M53 169.9h1.7M53.9 170.2h1.7M55.1 169.8h1.7M56.3 170.2h1.7M56.7 169.7h1.7M58.7 169.8h1.7M59.8 169.9h1.7M61.8 169.9h1.7M64.1 170h1.7M64.8 170.3h1.7M66 169.9h1.7M67.2 169.7h1.7M71.3 169.8h1.7M72.1 170.1h1.7M72.7 170.3h1.7M74.3 169.9h1.7M74.8 169.7h1.7M77.1 169.8h1.7M78 170.3h1.7M78.9 169.8h1.7M80.2 169.7h1.7M80.9 169.9h1.7M82.1 170h1.7M85.2 170.1h1.7M87.1 170.3h1.7M90.3 170h1.7M93.8 169.7h1.7M95.3 170.3h1.7M96.1 170.1h1.7M96.8 170.2h1.7M98.8 169.8h1.7M100.3 169.7h1.7M102 170.3h1.7M103.1 169.8h1.7M105.2 170h1.7M106 170.3h1.7M107 170.1h1.7M108.8 169.8h1.7M111.3 170.2h1.7M111.7 169.8h1.7M112.7 169.9h1.7M114.7 170h1.7M119.9 170.1h1.7M121.8 169.7h1.7M123.9 169.9h1.7M131.2 170h1.7M135 170.3h1.7M139 170.2h1.7M51.2 171.1h1.7M53.9 171.1h1.7M56.8 171.1h1.7M58.3 171h1.7M59 170.9h1.7M59.7 171.3h1.7M62 171.2h1.7M63.2 170.7h1.7M64.1 170.8h1.7M64.8 171.1h1.7M65.9 171h1.7M68.1 171.3h1.7M71 170.8h1.7M72.2 170.7h1.7M72.8 171h1.7M74.3 171.2h1.7M74.8 171h1.7M76.1 171.2h1.7M77.3 170.9h1.7M79.2 171.3h1.7M81 171h1.7M82.1 171.1h1.7M84.2 170.9h1.7M86.1 170.7h1.7M86.7 170.8h1.7M88 170.9h1.7M88.9 171.2h1.7M90.3 170.7h1.7M92 171.1h1.7M94.2 171.3h1.7M94.9 170.9h1.7M97.1 171h1.7M98 171.3h1.7M99.1 171.1h1.7M101 170.9h1.7M105.2 171.2h1.7M106.8 170.8h1.7M107.9 171.1h1.7M109.2 171.2h1.7M110.1 171.1h1.7M118.3 171.2h1.7M121.8 170.9h1.7M123.9 170.9h1.7M124.9 171.3h1.7M128.2 170.9h1.7M133.9 171.3h1.7M137.3 170.9h1.7M141 171.3h1.7M101.9 172h1.7M103.2 172.2h1.7M103.9 172h1.7M107.2 172.1h1.7M108.2 172.1h1.7M109.2 171.8h1.7M110.2 172.2h1.7M111.3 172h1.7M113.9 172.3h1.7M114.8 171.8h1.7M118.2 172.2h1.7M123.7 172.2h1.7M124.7 172.3h1.7M125.7 172.2h1.7M129.8 172.1h1.7M132.7 171.7h1.7M140.1 171.9h1.7M147.3 172h1.7M124.2 173.2h1.7M133 172.7h1.7M136 173.2h1.7M144 173.2h1.7M135.2 174.2h1.7M138.1 174.3h1.7M145 174.3h1.7M138 175.9h1.7M144.3 176.3h1.7M139.1 177.1h1.7M143.7 176.7h1.7M145.2 177.1h1.7M148.9 177.1h1.7M154.7 177.3h1.7M145.8 178.2h1.7M142 179.2h1.7M137.1 181.2h1.7M151 181.2h1.7M154.3 180.9h1.7M137.8 182.1h1.7M145.8 182h1.7M143.8 182.8h1.7M153.9 183.3h1.7M157 183.1h1.7M138.8 184.2h1.7M150.9 184.1h1.7M140.2 185.2h1.7M143.1 184.7h1.7M147.9 185.1h1.7M148.9 185.2h1.7M142.2 185.8h1.7M146.2 185.9h1.7M139.3 187.1h1.7M140.7 187.2h1.7M141.2 188h1.7M142.7 189.2h1.7M137 189.7h1.7M137.9 189.7h1.7M141 190.2h1.7M136.9 191.3h1.7M138.7 191h1.7M144.3 191.2h1.7M136.7 192.1h1.7M140.3 192.3h1.7M136.9 194h1.7M138.9 196.2h1.7M138 196.9h1.7M138.7 198.1h1.7M147.3 198h1.7M149.3 199.2h1.7M138 200h1.7M141.3 200.3h1.7M138.2 201.7h1.7M92.5 13.8h1.7M91.3 17.5h1.7M92.5 19h1.7M76.3 20.5h1.7M85 23.8h1.7M83.8 26.3h1.7M117 20h1.7M87.5 31.3h1.7M90 36.3h1.7M93.8 36.3h1.7M98.8 40h1.7M82.5 45h1.7M85 46.3h1.7M102.5 46.3h1.7M85 51.3h1.7M96.3 51.3h1.7M117 50h1.7M73.8 57.5h1.7M83.8 56.3h1.7M90 60h1.7M86.3 61.3h1.7M95 61.3h1.7M166.3 62.5h1.7M72.5 66.3h1.7M164.6 70.5h1.7M176.2 71.8h1.7M170.8 80.5h1.7M154.2 84.9h1.7M160.3 88.5h1.7M169.2 86.9h1.7M88 28h1.7M80 40h1.7M95 45h1.7M100 55h1.7M136.2 10.5h1.7M108.4 11.3h1.7M133.5 10h1.7M130.6 10.3h1.7M115.1 10.8h1.7M127.3 9.9h1.7M114.8 11.2h1.7M129.3 10.4h1.7M115.2 10.3h1.7M134.5 9.9h1.7M119.4 10.6h1.7M105.3 11.2h1.7M132.8 10.5h1.7M112.7 11.5h1.7M118.4 10.9h1.7M113.1 10.8h1.7M119.3 11.3h1.7M126 10.7h1.7M115.6 11.2h1.7M120.4 10.9h1.7M121.7 10.4h1.7M132.8 10.4h1.7M121.1 10.3h1.7M129.3 10.7h1.7M104.7 11.2h1.7M121 11.3h1.7M126 10.4h1.7M112 11.3h1.7M115.5 10.4h1.7M114.6 10.6h1.7M109.9 11.1h1.7M128.9 10h1.7M104.7 10.8h1.7M114.9 11.3h1.7M118.1 10.7h1.7M121.4 10.8h1.7" stroke="#000" stroke-width="1.7" fill="none"/>
<ellipse cx="76.5" cy="97.5" rx="8" ry="9" fill="#000"/>
<path d="M85.2 196.2h1M63.1 171.3h1M87.4 180.5h1M71.7 193.4h1M85.5 185.6h1M118.2 192h1M109.9 186h1M110.6 179.2h1M66.6 178h1M53.6 189.2h1M128.2 194.3h1M132.1 197.8h1M114.5 181.6h1M110.4 181.5h1M117.6 177.5h1M58.7 189.7h1M130.3 187.9h1M86.6 178.8h1M128.8 178.5h1M92.8 188.2h1M61.6 171.8h1M87.2 170.8h1M95.4 181h1M81.1 180.6h1M64.9 194.7h1M100.2 180.7h1M131.2 170.9h1M100.9 185.5h1M74.1 177.3h1M60.2 201h1" stroke="#fff" stroke-width="0.8" fill="none"/>
<rect x="56.9" y="68.6" width="38.6" height="68.6" fill="none" stroke="#222" stroke-width="0.9"/>
</svg>
</body></html>
